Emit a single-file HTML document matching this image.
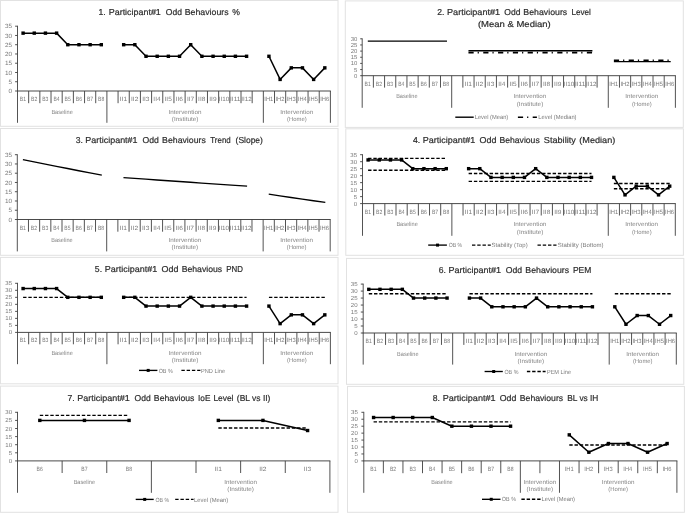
<!DOCTYPE html>
<html><head><meta charset="utf-8"><style>
html,body{margin:0;padding:0;background:#fff;width:685px;height:513px;overflow:hidden}
svg{display:block;font-family:"Liberation Sans",sans-serif;will-change:transform;text-rendering:geometricPrecision}
</style></head><body>
<svg width="685" height="513" viewBox="0 0 685 513" font-family="Liberation Sans, sans-serif" xml:space="preserve">
<rect width="685" height="513" fill="#fff"/>
<g opacity="0.999">
<rect x="0.5" y="0.5" width="337.5" height="125.8" fill="#fff" stroke="#e2e2e2" stroke-width="1"/>
<text x="98.56" y="15" font-size="8.6" fill="#2e2e2e" textLength="7.17" lengthAdjust="spacingAndGlyphs" style="white-space:pre" stroke="#2e2e2e" stroke-width="0.2">1.</text>
<text x="108.76" y="15" font-size="8.6" fill="#2e2e2e" textLength="52.08" lengthAdjust="spacingAndGlyphs" style="white-space:pre" stroke="#2e2e2e" stroke-width="0.2">Participant#1</text>
<text x="165.79" y="15" font-size="8.6" fill="#2e2e2e" textLength="16.14" lengthAdjust="spacingAndGlyphs" style="white-space:pre" stroke="#2e2e2e" stroke-width="0.2">Odd</text>
<text x="184.78" y="15" font-size="8.6" fill="#2e2e2e" textLength="43.83" lengthAdjust="spacingAndGlyphs" style="white-space:pre" stroke="#2e2e2e" stroke-width="0.2">Behaviours</text>
<text x="232.3" y="15" font-size="8.6" fill="#2e2e2e" textLength="7.7" lengthAdjust="spacingAndGlyphs" style="white-space:pre" stroke="#2e2e2e" stroke-width="0.2">%</text>
<line x1="15.1" y1="91" x2="17.5" y2="91" stroke="#404040" stroke-width="0.9"/>
<text x="8.49" y="93.13" font-size="6.1" fill="#7a7a7a" textLength="3.56" lengthAdjust="spacingAndGlyphs" style="white-space:pre">0</text>
<line x1="15.1" y1="81.74" x2="17.5" y2="81.74" stroke="#404040" stroke-width="0.9"/>
<text x="8.5" y="83.87" font-size="6.1" fill="#7a7a7a" textLength="3.56" lengthAdjust="spacingAndGlyphs" style="white-space:pre">5</text>
<line x1="15.1" y1="72.49" x2="17.5" y2="72.49" stroke="#404040" stroke-width="0.9"/>
<text x="4.93" y="74.61" font-size="6.1" fill="#7a7a7a" textLength="7.12" lengthAdjust="spacingAndGlyphs" style="white-space:pre">10</text>
<line x1="15.1" y1="63.23" x2="17.5" y2="63.23" stroke="#404040" stroke-width="0.9"/>
<text x="4.95" y="65.36" font-size="6.1" fill="#7a7a7a" textLength="7.12" lengthAdjust="spacingAndGlyphs" style="white-space:pre">15</text>
<line x1="15.1" y1="53.97" x2="17.5" y2="53.97" stroke="#404040" stroke-width="0.9"/>
<text x="4.93" y="56.1" font-size="6.1" fill="#7a7a7a" textLength="7.12" lengthAdjust="spacingAndGlyphs" style="white-space:pre">20</text>
<line x1="15.1" y1="44.71" x2="17.5" y2="44.71" stroke="#404040" stroke-width="0.9"/>
<text x="4.95" y="46.84" font-size="6.1" fill="#7a7a7a" textLength="7.12" lengthAdjust="spacingAndGlyphs" style="white-space:pre">25</text>
<line x1="15.1" y1="35.46" x2="17.5" y2="35.46" stroke="#404040" stroke-width="0.9"/>
<text x="4.93" y="37.58" font-size="6.1" fill="#7a7a7a" textLength="7.12" lengthAdjust="spacingAndGlyphs" style="white-space:pre">30</text>
<line x1="15.1" y1="26.2" x2="17.5" y2="26.2" stroke="#404040" stroke-width="0.9"/>
<text x="4.95" y="28.33" font-size="6.1" fill="#7a7a7a" textLength="7.12" lengthAdjust="spacingAndGlyphs" style="white-space:pre">35</text>
<line x1="17.5" y1="25.75" x2="17.5" y2="91" stroke="#404040" stroke-width="0.9"/>
<line x1="17.05" y1="91" x2="330.85" y2="91" stroke="#404040" stroke-width="0.95"/>
<line x1="17.5" y1="91" x2="17.5" y2="122.8" stroke="#404040" stroke-width="0.9"/>
<line x1="28.67" y1="91" x2="28.67" y2="103.2" stroke="#404040" stroke-width="0.9"/>
<line x1="39.85" y1="91" x2="39.85" y2="103.2" stroke="#404040" stroke-width="0.9"/>
<line x1="51.02" y1="91" x2="51.02" y2="103.2" stroke="#404040" stroke-width="0.9"/>
<line x1="62.2" y1="91" x2="62.2" y2="103.2" stroke="#404040" stroke-width="0.9"/>
<line x1="73.38" y1="91" x2="73.38" y2="103.2" stroke="#404040" stroke-width="0.9"/>
<line x1="84.55" y1="91" x2="84.55" y2="103.2" stroke="#404040" stroke-width="0.9"/>
<line x1="95.72" y1="91" x2="95.72" y2="103.2" stroke="#404040" stroke-width="0.9"/>
<line x1="106.9" y1="91" x2="106.9" y2="122.8" stroke="#404040" stroke-width="0.9"/>
<line x1="118.07" y1="91" x2="118.07" y2="103.2" stroke="#404040" stroke-width="0.9"/>
<line x1="129.25" y1="91" x2="129.25" y2="103.2" stroke="#404040" stroke-width="0.9"/>
<line x1="140.42" y1="91" x2="140.42" y2="103.2" stroke="#404040" stroke-width="0.9"/>
<line x1="151.6" y1="91" x2="151.6" y2="103.2" stroke="#404040" stroke-width="0.9"/>
<line x1="162.77" y1="91" x2="162.77" y2="103.2" stroke="#404040" stroke-width="0.9"/>
<line x1="173.95" y1="91" x2="173.95" y2="103.2" stroke="#404040" stroke-width="0.9"/>
<line x1="185.12" y1="91" x2="185.12" y2="103.2" stroke="#404040" stroke-width="0.9"/>
<line x1="196.3" y1="91" x2="196.3" y2="103.2" stroke="#404040" stroke-width="0.9"/>
<line x1="207.47" y1="91" x2="207.47" y2="103.2" stroke="#404040" stroke-width="0.9"/>
<line x1="218.65" y1="91" x2="218.65" y2="103.2" stroke="#404040" stroke-width="0.9"/>
<line x1="229.82" y1="91" x2="229.82" y2="103.2" stroke="#404040" stroke-width="0.9"/>
<line x1="241" y1="91" x2="241" y2="103.2" stroke="#404040" stroke-width="0.9"/>
<line x1="252.17" y1="91" x2="252.17" y2="103.2" stroke="#404040" stroke-width="0.9"/>
<line x1="263.35" y1="91" x2="263.35" y2="122.8" stroke="#404040" stroke-width="0.9"/>
<line x1="274.52" y1="91" x2="274.52" y2="103.2" stroke="#404040" stroke-width="0.9"/>
<line x1="285.7" y1="91" x2="285.7" y2="103.2" stroke="#404040" stroke-width="0.9"/>
<line x1="296.88" y1="91" x2="296.88" y2="103.2" stroke="#404040" stroke-width="0.9"/>
<line x1="308.05" y1="91" x2="308.05" y2="103.2" stroke="#404040" stroke-width="0.9"/>
<line x1="319.22" y1="91" x2="319.22" y2="103.2" stroke="#404040" stroke-width="0.9"/>
<line x1="330.4" y1="91" x2="330.4" y2="122.8" stroke="#404040" stroke-width="0.9"/>
<text x="19.86" y="101" font-size="6.1" fill="#7a7a7a" textLength="6.27" lengthAdjust="spacingAndGlyphs" style="white-space:pre">B1</text>
<text x="31.04" y="101" font-size="6.1" fill="#7a7a7a" textLength="6.28" lengthAdjust="spacingAndGlyphs" style="white-space:pre">B2</text>
<text x="42.22" y="101" font-size="6.1" fill="#7a7a7a" textLength="6.24" lengthAdjust="spacingAndGlyphs" style="white-space:pre">B3</text>
<text x="53.4" y="101" font-size="6.1" fill="#7a7a7a" textLength="6.16" lengthAdjust="spacingAndGlyphs" style="white-space:pre">B4</text>
<text x="64.57" y="101" font-size="6.1" fill="#7a7a7a" textLength="6.23" lengthAdjust="spacingAndGlyphs" style="white-space:pre">B5</text>
<text x="75.74" y="101" font-size="6.1" fill="#7a7a7a" textLength="6.24" lengthAdjust="spacingAndGlyphs" style="white-space:pre">B6</text>
<text x="86.91" y="101" font-size="6.1" fill="#7a7a7a" textLength="6.28" lengthAdjust="spacingAndGlyphs" style="white-space:pre">B7</text>
<text x="98.09" y="101" font-size="6.1" fill="#7a7a7a" textLength="6.24" lengthAdjust="spacingAndGlyphs" style="white-space:pre">B8</text>
<text x="119.85" y="101" font-size="6.1" fill="#7a7a7a" textLength="7.34" lengthAdjust="spacingAndGlyphs" style="white-space:pre">II1</text>
<text x="131.03" y="101" font-size="6.1" fill="#7a7a7a" textLength="7.36" lengthAdjust="spacingAndGlyphs" style="white-space:pre">II2</text>
<text x="142.21" y="101" font-size="6.1" fill="#7a7a7a" textLength="7.3" lengthAdjust="spacingAndGlyphs" style="white-space:pre">II3</text>
<text x="153.39" y="101" font-size="6.1" fill="#7a7a7a" textLength="7.19" lengthAdjust="spacingAndGlyphs" style="white-space:pre">II4</text>
<text x="164.56" y="101" font-size="6.1" fill="#7a7a7a" textLength="7.28" lengthAdjust="spacingAndGlyphs" style="white-space:pre">II5</text>
<text x="175.73" y="101" font-size="6.1" fill="#7a7a7a" textLength="7.3" lengthAdjust="spacingAndGlyphs" style="white-space:pre">II6</text>
<text x="186.9" y="101" font-size="6.1" fill="#7a7a7a" textLength="7.36" lengthAdjust="spacingAndGlyphs" style="white-space:pre">II7</text>
<text x="198.08" y="101" font-size="6.1" fill="#7a7a7a" textLength="7.3" lengthAdjust="spacingAndGlyphs" style="white-space:pre">II8</text>
<text x="209.25" y="101" font-size="6.1" fill="#7a7a7a" textLength="7.32" lengthAdjust="spacingAndGlyphs" style="white-space:pre">II9</text>
<text x="218.86" y="101" font-size="6.1" fill="#7a7a7a" textLength="10.42" lengthAdjust="spacingAndGlyphs" style="white-space:pre">II10</text>
<text x="230" y="101" font-size="6.1" fill="#7a7a7a" textLength="10.53" lengthAdjust="spacingAndGlyphs" style="white-space:pre">II11</text>
<text x="241.21" y="101" font-size="6.1" fill="#7a7a7a" textLength="10.5" lengthAdjust="spacingAndGlyphs" style="white-space:pre">II12</text>
<text x="264.3" y="101" font-size="6.1" fill="#7a7a7a" textLength="9.02" lengthAdjust="spacingAndGlyphs" style="white-space:pre">IH1</text>
<text x="275.48" y="101" font-size="6.1" fill="#7a7a7a" textLength="9.03" lengthAdjust="spacingAndGlyphs" style="white-space:pre">IH2</text>
<text x="286.65" y="101" font-size="6.1" fill="#7a7a7a" textLength="8.99" lengthAdjust="spacingAndGlyphs" style="white-space:pre">IH3</text>
<text x="297.83" y="101" font-size="6.1" fill="#7a7a7a" textLength="8.89" lengthAdjust="spacingAndGlyphs" style="white-space:pre">IH4</text>
<text x="309" y="101" font-size="6.1" fill="#7a7a7a" textLength="8.97" lengthAdjust="spacingAndGlyphs" style="white-space:pre">IH5</text>
<text x="320.18" y="101" font-size="6.1" fill="#7a7a7a" textLength="8.99" lengthAdjust="spacingAndGlyphs" style="white-space:pre">IH6</text>
<text x="51.39" y="113.6" font-size="6" fill="#858585" textLength="21.4" lengthAdjust="spacingAndGlyphs" style="white-space:pre">Baseline</text>
<text x="168.64" y="113.6" font-size="6" fill="#858585" textLength="32.78" lengthAdjust="spacingAndGlyphs" style="white-space:pre">Intervention</text>
<text x="171.83" y="120.9" font-size="6" fill="#858585" textLength="26.59" lengthAdjust="spacingAndGlyphs" style="white-space:pre">(Institute)</text>
<text x="280.39" y="113.6" font-size="6" fill="#858585" textLength="32.78" lengthAdjust="spacingAndGlyphs" style="white-space:pre">Intervention</text>
<text x="287.01" y="120.9" font-size="6" fill="#858585" textLength="19.73" lengthAdjust="spacingAndGlyphs" style="white-space:pre">(Home)</text>
<polyline points="23.09,33.14 34.26,33.14 45.44,33.14 56.61,33.14 67.79,44.71 78.96,44.71 90.14,44.71 101.31,44.71" fill="none" stroke="#000" stroke-width="1.5" stroke-linejoin="round"/>
<rect x="21.39" y="31.44" width="3.4" height="3.4" fill="#000"/>
<rect x="32.56" y="31.44" width="3.4" height="3.4" fill="#000"/>
<rect x="43.74" y="31.44" width="3.4" height="3.4" fill="#000"/>
<rect x="54.91" y="31.44" width="3.4" height="3.4" fill="#000"/>
<rect x="66.09" y="43.01" width="3.4" height="3.4" fill="#000"/>
<rect x="77.26" y="43.01" width="3.4" height="3.4" fill="#000"/>
<rect x="88.44" y="43.01" width="3.4" height="3.4" fill="#000"/>
<rect x="99.61" y="43.01" width="3.4" height="3.4" fill="#000"/>
<polyline points="123.66,44.71 134.84,44.71 146.01,56.29 157.19,56.29 168.36,56.29 179.54,56.29 190.71,44.71 201.89,56.29 213.06,56.29 224.24,56.29 235.41,56.29 246.59,56.29" fill="none" stroke="#000" stroke-width="1.5" stroke-linejoin="round"/>
<rect x="121.96" y="43.01" width="3.4" height="3.4" fill="#000"/>
<rect x="133.14" y="43.01" width="3.4" height="3.4" fill="#000"/>
<rect x="144.31" y="54.59" width="3.4" height="3.4" fill="#000"/>
<rect x="155.49" y="54.59" width="3.4" height="3.4" fill="#000"/>
<rect x="166.66" y="54.59" width="3.4" height="3.4" fill="#000"/>
<rect x="177.84" y="54.59" width="3.4" height="3.4" fill="#000"/>
<rect x="189.01" y="43.01" width="3.4" height="3.4" fill="#000"/>
<rect x="200.19" y="54.59" width="3.4" height="3.4" fill="#000"/>
<rect x="211.36" y="54.59" width="3.4" height="3.4" fill="#000"/>
<rect x="222.54" y="54.59" width="3.4" height="3.4" fill="#000"/>
<rect x="233.71" y="54.59" width="3.4" height="3.4" fill="#000"/>
<rect x="244.89" y="54.59" width="3.4" height="3.4" fill="#000"/>
<polyline points="268.94,56.29 280.11,79.43 291.29,67.86 302.46,67.86 313.64,79.43 324.81,67.86" fill="none" stroke="#000" stroke-width="1.5" stroke-linejoin="round"/>
<rect x="267.24" y="54.59" width="3.4" height="3.4" fill="#000"/>
<rect x="278.41" y="77.73" width="3.4" height="3.4" fill="#000"/>
<rect x="289.59" y="66.16" width="3.4" height="3.4" fill="#000"/>
<rect x="300.76" y="66.16" width="3.4" height="3.4" fill="#000"/>
<rect x="311.94" y="77.73" width="3.4" height="3.4" fill="#000"/>
<rect x="323.11" y="66.16" width="3.4" height="3.4" fill="#000"/>
<rect x="345.3" y="0.9" width="338" height="126.5" fill="#fff" stroke="#e2e2e2" stroke-width="1"/>
<text x="437.27" y="15.4" font-size="8.6" fill="#2e2e2e" textLength="7.17" lengthAdjust="spacingAndGlyphs" style="white-space:pre" stroke="#2e2e2e" stroke-width="0.2">2.</text>
<text x="447.05" y="15.4" font-size="8.6" fill="#2e2e2e" textLength="53.1" lengthAdjust="spacingAndGlyphs" style="white-space:pre" stroke="#2e2e2e" stroke-width="0.2">Participant#1</text>
<text x="504.29" y="15.4" font-size="8.6" fill="#2e2e2e" textLength="16.14" lengthAdjust="spacingAndGlyphs" style="white-space:pre" stroke="#2e2e2e" stroke-width="0.2">Odd</text>
<text x="523.38" y="15.4" font-size="8.6" fill="#2e2e2e" textLength="43.83" lengthAdjust="spacingAndGlyphs" style="white-space:pre" stroke="#2e2e2e" stroke-width="0.2">Behaviours</text>
<text x="571.43" y="15.4" font-size="8.6" fill="#2e2e2e" textLength="19.42" lengthAdjust="spacingAndGlyphs" style="white-space:pre" stroke="#2e2e2e" stroke-width="0.2">Level</text>
<text x="477.91" y="27.1" font-size="8.6" fill="#2e2e2e" textLength="72.86" lengthAdjust="spacingAndGlyphs" style="white-space:pre" stroke="#2e2e2e" stroke-width="0.2">(Mean &amp; Median)</text>
<line x1="360.2" y1="75.7" x2="362.2" y2="75.7" stroke="#404040" stroke-width="0.9"/>
<text x="354" y="77.69" font-size="5.7" fill="#7a7a7a" textLength="3.33" lengthAdjust="spacingAndGlyphs" style="white-space:pre">0</text>
<line x1="360.2" y1="69.55" x2="362.2" y2="69.55" stroke="#404040" stroke-width="0.9"/>
<text x="354.02" y="71.54" font-size="5.7" fill="#7a7a7a" textLength="3.33" lengthAdjust="spacingAndGlyphs" style="white-space:pre">5</text>
<line x1="360.2" y1="63.4" x2="362.2" y2="63.4" stroke="#404040" stroke-width="0.9"/>
<text x="350.68" y="65.39" font-size="5.7" fill="#7a7a7a" textLength="6.66" lengthAdjust="spacingAndGlyphs" style="white-space:pre">10</text>
<line x1="360.2" y1="57.25" x2="362.2" y2="57.25" stroke="#404040" stroke-width="0.9"/>
<text x="350.7" y="59.24" font-size="5.7" fill="#7a7a7a" textLength="6.66" lengthAdjust="spacingAndGlyphs" style="white-space:pre">15</text>
<line x1="360.2" y1="51.1" x2="362.2" y2="51.1" stroke="#404040" stroke-width="0.9"/>
<text x="350.68" y="53.09" font-size="5.7" fill="#7a7a7a" textLength="6.66" lengthAdjust="spacingAndGlyphs" style="white-space:pre">20</text>
<line x1="360.2" y1="44.95" x2="362.2" y2="44.95" stroke="#404040" stroke-width="0.9"/>
<text x="350.7" y="46.94" font-size="5.7" fill="#7a7a7a" textLength="6.66" lengthAdjust="spacingAndGlyphs" style="white-space:pre">25</text>
<line x1="360.2" y1="38.8" x2="362.2" y2="38.8" stroke="#404040" stroke-width="0.9"/>
<text x="350.68" y="40.79" font-size="5.7" fill="#7a7a7a" textLength="6.66" lengthAdjust="spacingAndGlyphs" style="white-space:pre">30</text>
<line x1="362.2" y1="38.35" x2="362.2" y2="75.7" stroke="#404040" stroke-width="0.9"/>
<line x1="361.75" y1="75.7" x2="675.85" y2="75.7" stroke="#404040" stroke-width="0.95"/>
<line x1="362.2" y1="75.7" x2="362.2" y2="107.8" stroke="#404040" stroke-width="0.9"/>
<line x1="373.39" y1="75.7" x2="373.39" y2="87.6" stroke="#404040" stroke-width="0.9"/>
<line x1="384.57" y1="75.7" x2="384.57" y2="87.6" stroke="#404040" stroke-width="0.9"/>
<line x1="395.76" y1="75.7" x2="395.76" y2="87.6" stroke="#404040" stroke-width="0.9"/>
<line x1="406.94" y1="75.7" x2="406.94" y2="87.6" stroke="#404040" stroke-width="0.9"/>
<line x1="418.13" y1="75.7" x2="418.13" y2="87.6" stroke="#404040" stroke-width="0.9"/>
<line x1="429.31" y1="75.7" x2="429.31" y2="87.6" stroke="#404040" stroke-width="0.9"/>
<line x1="440.5" y1="75.7" x2="440.5" y2="87.6" stroke="#404040" stroke-width="0.9"/>
<line x1="451.69" y1="75.7" x2="451.69" y2="107.8" stroke="#404040" stroke-width="0.9"/>
<line x1="462.87" y1="75.7" x2="462.87" y2="87.6" stroke="#404040" stroke-width="0.9"/>
<line x1="474.06" y1="75.7" x2="474.06" y2="87.6" stroke="#404040" stroke-width="0.9"/>
<line x1="485.24" y1="75.7" x2="485.24" y2="87.6" stroke="#404040" stroke-width="0.9"/>
<line x1="496.43" y1="75.7" x2="496.43" y2="87.6" stroke="#404040" stroke-width="0.9"/>
<line x1="507.61" y1="75.7" x2="507.61" y2="87.6" stroke="#404040" stroke-width="0.9"/>
<line x1="518.8" y1="75.7" x2="518.8" y2="87.6" stroke="#404040" stroke-width="0.9"/>
<line x1="529.99" y1="75.7" x2="529.99" y2="87.6" stroke="#404040" stroke-width="0.9"/>
<line x1="541.17" y1="75.7" x2="541.17" y2="87.6" stroke="#404040" stroke-width="0.9"/>
<line x1="552.36" y1="75.7" x2="552.36" y2="87.6" stroke="#404040" stroke-width="0.9"/>
<line x1="563.54" y1="75.7" x2="563.54" y2="87.6" stroke="#404040" stroke-width="0.9"/>
<line x1="574.73" y1="75.7" x2="574.73" y2="87.6" stroke="#404040" stroke-width="0.9"/>
<line x1="585.91" y1="75.7" x2="585.91" y2="87.6" stroke="#404040" stroke-width="0.9"/>
<line x1="597.1" y1="75.7" x2="597.1" y2="87.6" stroke="#404040" stroke-width="0.9"/>
<line x1="608.29" y1="75.7" x2="608.29" y2="107.8" stroke="#404040" stroke-width="0.9"/>
<line x1="619.47" y1="75.7" x2="619.47" y2="87.6" stroke="#404040" stroke-width="0.9"/>
<line x1="630.66" y1="75.7" x2="630.66" y2="87.6" stroke="#404040" stroke-width="0.9"/>
<line x1="641.84" y1="75.7" x2="641.84" y2="87.6" stroke="#404040" stroke-width="0.9"/>
<line x1="653.03" y1="75.7" x2="653.03" y2="87.6" stroke="#404040" stroke-width="0.9"/>
<line x1="664.21" y1="75.7" x2="664.21" y2="87.6" stroke="#404040" stroke-width="0.9"/>
<line x1="675.4" y1="75.7" x2="675.4" y2="107.8" stroke="#404040" stroke-width="0.9"/>
<text x="364.57" y="85.7" font-size="6.1" fill="#7a7a7a" textLength="6.27" lengthAdjust="spacingAndGlyphs" style="white-space:pre">B1</text>
<text x="375.75" y="85.7" font-size="6.1" fill="#7a7a7a" textLength="6.28" lengthAdjust="spacingAndGlyphs" style="white-space:pre">B2</text>
<text x="386.94" y="85.7" font-size="6.1" fill="#7a7a7a" textLength="6.24" lengthAdjust="spacingAndGlyphs" style="white-space:pre">B3</text>
<text x="398.13" y="85.7" font-size="6.1" fill="#7a7a7a" textLength="6.16" lengthAdjust="spacingAndGlyphs" style="white-space:pre">B4</text>
<text x="409.32" y="85.7" font-size="6.1" fill="#7a7a7a" textLength="6.23" lengthAdjust="spacingAndGlyphs" style="white-space:pre">B5</text>
<text x="420.5" y="85.7" font-size="6.1" fill="#7a7a7a" textLength="6.24" lengthAdjust="spacingAndGlyphs" style="white-space:pre">B6</text>
<text x="431.68" y="85.7" font-size="6.1" fill="#7a7a7a" textLength="6.28" lengthAdjust="spacingAndGlyphs" style="white-space:pre">B7</text>
<text x="442.87" y="85.7" font-size="6.1" fill="#7a7a7a" textLength="6.24" lengthAdjust="spacingAndGlyphs" style="white-space:pre">B8</text>
<text x="464.65" y="85.7" font-size="6.1" fill="#7a7a7a" textLength="7.34" lengthAdjust="spacingAndGlyphs" style="white-space:pre">II1</text>
<text x="475.84" y="85.7" font-size="6.1" fill="#7a7a7a" textLength="7.36" lengthAdjust="spacingAndGlyphs" style="white-space:pre">II2</text>
<text x="487.03" y="85.7" font-size="6.1" fill="#7a7a7a" textLength="7.3" lengthAdjust="spacingAndGlyphs" style="white-space:pre">II3</text>
<text x="498.22" y="85.7" font-size="6.1" fill="#7a7a7a" textLength="7.19" lengthAdjust="spacingAndGlyphs" style="white-space:pre">II4</text>
<text x="509.4" y="85.7" font-size="6.1" fill="#7a7a7a" textLength="7.28" lengthAdjust="spacingAndGlyphs" style="white-space:pre">II5</text>
<text x="520.59" y="85.7" font-size="6.1" fill="#7a7a7a" textLength="7.3" lengthAdjust="spacingAndGlyphs" style="white-space:pre">II6</text>
<text x="531.77" y="85.7" font-size="6.1" fill="#7a7a7a" textLength="7.36" lengthAdjust="spacingAndGlyphs" style="white-space:pre">II7</text>
<text x="542.96" y="85.7" font-size="6.1" fill="#7a7a7a" textLength="7.3" lengthAdjust="spacingAndGlyphs" style="white-space:pre">II8</text>
<text x="554.14" y="85.7" font-size="6.1" fill="#7a7a7a" textLength="7.32" lengthAdjust="spacingAndGlyphs" style="white-space:pre">II9</text>
<text x="563.76" y="85.7" font-size="6.1" fill="#7a7a7a" textLength="10.42" lengthAdjust="spacingAndGlyphs" style="white-space:pre">II10</text>
<text x="574.91" y="85.7" font-size="6.1" fill="#7a7a7a" textLength="10.53" lengthAdjust="spacingAndGlyphs" style="white-space:pre">II11</text>
<text x="586.12" y="85.7" font-size="6.1" fill="#7a7a7a" textLength="10.5" lengthAdjust="spacingAndGlyphs" style="white-space:pre">II12</text>
<text x="609.24" y="85.7" font-size="6.1" fill="#7a7a7a" textLength="9.02" lengthAdjust="spacingAndGlyphs" style="white-space:pre">IH1</text>
<text x="620.43" y="85.7" font-size="6.1" fill="#7a7a7a" textLength="9.03" lengthAdjust="spacingAndGlyphs" style="white-space:pre">IH2</text>
<text x="631.62" y="85.7" font-size="6.1" fill="#7a7a7a" textLength="8.99" lengthAdjust="spacingAndGlyphs" style="white-space:pre">IH3</text>
<text x="642.81" y="85.7" font-size="6.1" fill="#7a7a7a" textLength="8.89" lengthAdjust="spacingAndGlyphs" style="white-space:pre">IH4</text>
<text x="653.99" y="85.7" font-size="6.1" fill="#7a7a7a" textLength="8.97" lengthAdjust="spacingAndGlyphs" style="white-space:pre">IH5</text>
<text x="665.17" y="85.7" font-size="6.1" fill="#7a7a7a" textLength="8.99" lengthAdjust="spacingAndGlyphs" style="white-space:pre">IH6</text>
<text x="396.13" y="98.3" font-size="6" fill="#858585" textLength="21.4" lengthAdjust="spacingAndGlyphs" style="white-space:pre">Baseline</text>
<text x="513.51" y="98.3" font-size="6" fill="#858585" textLength="32.78" lengthAdjust="spacingAndGlyphs" style="white-space:pre">Intervention</text>
<text x="516.69" y="105.6" font-size="6" fill="#858585" textLength="26.59" lengthAdjust="spacingAndGlyphs" style="white-space:pre">(Institute)</text>
<text x="625.36" y="98.3" font-size="6" fill="#858585" textLength="32.78" lengthAdjust="spacingAndGlyphs" style="white-space:pre">Intervention</text>
<text x="631.97" y="105.6" font-size="6" fill="#858585" textLength="19.73" lengthAdjust="spacingAndGlyphs" style="white-space:pre">(Home)</text>
<polyline points="367.79,41.11 378.98,41.11 390.16,41.11 401.35,41.11 412.54,41.11 423.72,41.11 434.91,41.11 446.99,41.11" fill="none" stroke="#000" stroke-width="1.4" stroke-linejoin="round"/>
<polyline points="468.46,50.72 479.65,50.72 490.84,50.72 502.02,50.72 513.21,50.72 524.39,50.72 535.58,50.72 546.76,50.72 557.95,50.72 569.14,50.72 580.32,50.72 592.41,50.72" fill="none" stroke="#000" stroke-width="1.4" stroke-linejoin="round"/>
<polyline points="613.88,61.61 625.06,61.61 636.25,61.61 647.44,61.61 658.62,61.61 670.71,61.61" fill="none" stroke="#000" stroke-width="1.4" stroke-linejoin="round"/>
<polyline points="468.46,52.64 479.65,52.64 490.84,52.64 502.02,52.64 513.21,52.64 524.39,52.64 535.58,52.64 546.76,52.64 557.95,52.64 569.14,52.64 580.32,52.64 592.41,52.64" fill="none" stroke="#000" stroke-width="1.6" stroke-linejoin="round" stroke-dasharray="5.2,4,1.2,4.4"/>
<polyline points="613.88,60.33 625.06,60.33 636.25,60.33 647.44,60.33 658.62,60.33 670.71,60.33" fill="none" stroke="#000" stroke-width="1.6" stroke-linejoin="round" stroke-dasharray="5.2,4,1.2,4.4"/>
<line x1="455.3" y1="117.2" x2="473.7" y2="117.2" stroke="#000" stroke-width="1.4"/>
<text x="474.73" y="119.3" font-size="6" fill="#7a7a7a" textLength="33.52" lengthAdjust="spacingAndGlyphs" style="white-space:pre">Level (Mean)</text>
<line x1="517.9" y1="117.2" x2="536.9" y2="117.2" stroke="#000" stroke-width="1.6" stroke-dasharray="5.2,4,1.2,4.4"/>
<text x="538.32" y="119.3" font-size="6" fill="#7a7a7a" textLength="38.22" lengthAdjust="spacingAndGlyphs" style="white-space:pre">Level (Median)</text>
<rect x="0.5" y="128.5" width="337.5" height="126.8" fill="#fff" stroke="#e2e2e2" stroke-width="1"/>
<text x="75.68" y="143.4" font-size="8.6" fill="#2e2e2e" textLength="7.17" lengthAdjust="spacingAndGlyphs" style="white-space:pre" stroke="#2e2e2e" stroke-width="0.2">3.</text>
<text x="85.36" y="143.4" font-size="8.6" fill="#2e2e2e" textLength="52.18" lengthAdjust="spacingAndGlyphs" style="white-space:pre" stroke="#2e2e2e" stroke-width="0.2">Participant#1</text>
<text x="142.59" y="143.4" font-size="8.6" fill="#2e2e2e" textLength="16.35" lengthAdjust="spacingAndGlyphs" style="white-space:pre" stroke="#2e2e2e" stroke-width="0.2">Odd</text>
<text x="162.08" y="143.4" font-size="8.6" fill="#2e2e2e" textLength="43.73" lengthAdjust="spacingAndGlyphs" style="white-space:pre" stroke="#2e2e2e" stroke-width="0.2">Behaviours</text>
<text x="210.32" y="143.4" font-size="8.6" fill="#2e2e2e" textLength="20.37" lengthAdjust="spacingAndGlyphs" style="white-space:pre" stroke="#2e2e2e" stroke-width="0.2">Trend</text>
<text x="235.57" y="143.4" font-size="8.6" fill="#2e2e2e" textLength="27.35" lengthAdjust="spacingAndGlyphs" style="white-space:pre" stroke="#2e2e2e" stroke-width="0.2">(Slope)</text>
<line x1="14.9" y1="219.5" x2="17.3" y2="219.5" stroke="#404040" stroke-width="0.9"/>
<text x="8.49" y="221.63" font-size="6.1" fill="#7a7a7a" textLength="3.56" lengthAdjust="spacingAndGlyphs" style="white-space:pre">0</text>
<line x1="14.9" y1="210.24" x2="17.3" y2="210.24" stroke="#404040" stroke-width="0.9"/>
<text x="8.5" y="212.37" font-size="6.1" fill="#7a7a7a" textLength="3.56" lengthAdjust="spacingAndGlyphs" style="white-space:pre">5</text>
<line x1="14.9" y1="200.99" x2="17.3" y2="200.99" stroke="#404040" stroke-width="0.9"/>
<text x="4.93" y="203.11" font-size="6.1" fill="#7a7a7a" textLength="7.12" lengthAdjust="spacingAndGlyphs" style="white-space:pre">10</text>
<line x1="14.9" y1="191.73" x2="17.3" y2="191.73" stroke="#404040" stroke-width="0.9"/>
<text x="4.95" y="193.86" font-size="6.1" fill="#7a7a7a" textLength="7.12" lengthAdjust="spacingAndGlyphs" style="white-space:pre">15</text>
<line x1="14.9" y1="182.47" x2="17.3" y2="182.47" stroke="#404040" stroke-width="0.9"/>
<text x="4.93" y="184.6" font-size="6.1" fill="#7a7a7a" textLength="7.12" lengthAdjust="spacingAndGlyphs" style="white-space:pre">20</text>
<line x1="14.9" y1="173.21" x2="17.3" y2="173.21" stroke="#404040" stroke-width="0.9"/>
<text x="4.95" y="175.34" font-size="6.1" fill="#7a7a7a" textLength="7.12" lengthAdjust="spacingAndGlyphs" style="white-space:pre">25</text>
<line x1="14.9" y1="163.96" x2="17.3" y2="163.96" stroke="#404040" stroke-width="0.9"/>
<text x="4.93" y="166.08" font-size="6.1" fill="#7a7a7a" textLength="7.12" lengthAdjust="spacingAndGlyphs" style="white-space:pre">30</text>
<line x1="14.9" y1="154.7" x2="17.3" y2="154.7" stroke="#404040" stroke-width="0.9"/>
<text x="4.95" y="156.83" font-size="6.1" fill="#7a7a7a" textLength="7.12" lengthAdjust="spacingAndGlyphs" style="white-space:pre">35</text>
<line x1="17.3" y1="154.25" x2="17.3" y2="219.5" stroke="#404040" stroke-width="0.9"/>
<line x1="16.85" y1="219.5" x2="330.65" y2="219.5" stroke="#404040" stroke-width="0.95"/>
<line x1="17.3" y1="219.5" x2="17.3" y2="251.4" stroke="#404040" stroke-width="0.9"/>
<line x1="28.48" y1="219.5" x2="28.48" y2="231.7" stroke="#404040" stroke-width="0.9"/>
<line x1="39.65" y1="219.5" x2="39.65" y2="231.7" stroke="#404040" stroke-width="0.9"/>
<line x1="50.83" y1="219.5" x2="50.83" y2="231.7" stroke="#404040" stroke-width="0.9"/>
<line x1="62" y1="219.5" x2="62" y2="231.7" stroke="#404040" stroke-width="0.9"/>
<line x1="73.17" y1="219.5" x2="73.17" y2="231.7" stroke="#404040" stroke-width="0.9"/>
<line x1="84.35" y1="219.5" x2="84.35" y2="231.7" stroke="#404040" stroke-width="0.9"/>
<line x1="95.52" y1="219.5" x2="95.52" y2="231.7" stroke="#404040" stroke-width="0.9"/>
<line x1="106.7" y1="219.5" x2="106.7" y2="251.4" stroke="#404040" stroke-width="0.9"/>
<line x1="117.87" y1="219.5" x2="117.87" y2="231.7" stroke="#404040" stroke-width="0.9"/>
<line x1="129.05" y1="219.5" x2="129.05" y2="231.7" stroke="#404040" stroke-width="0.9"/>
<line x1="140.22" y1="219.5" x2="140.22" y2="231.7" stroke="#404040" stroke-width="0.9"/>
<line x1="151.4" y1="219.5" x2="151.4" y2="231.7" stroke="#404040" stroke-width="0.9"/>
<line x1="162.57" y1="219.5" x2="162.57" y2="231.7" stroke="#404040" stroke-width="0.9"/>
<line x1="173.75" y1="219.5" x2="173.75" y2="231.7" stroke="#404040" stroke-width="0.9"/>
<line x1="184.92" y1="219.5" x2="184.92" y2="231.7" stroke="#404040" stroke-width="0.9"/>
<line x1="196.1" y1="219.5" x2="196.1" y2="231.7" stroke="#404040" stroke-width="0.9"/>
<line x1="207.28" y1="219.5" x2="207.28" y2="231.7" stroke="#404040" stroke-width="0.9"/>
<line x1="218.45" y1="219.5" x2="218.45" y2="231.7" stroke="#404040" stroke-width="0.9"/>
<line x1="229.62" y1="219.5" x2="229.62" y2="231.7" stroke="#404040" stroke-width="0.9"/>
<line x1="240.8" y1="219.5" x2="240.8" y2="231.7" stroke="#404040" stroke-width="0.9"/>
<line x1="251.97" y1="219.5" x2="251.97" y2="231.7" stroke="#404040" stroke-width="0.9"/>
<line x1="263.15" y1="219.5" x2="263.15" y2="251.4" stroke="#404040" stroke-width="0.9"/>
<line x1="274.32" y1="219.5" x2="274.32" y2="231.7" stroke="#404040" stroke-width="0.9"/>
<line x1="285.5" y1="219.5" x2="285.5" y2="231.7" stroke="#404040" stroke-width="0.9"/>
<line x1="296.68" y1="219.5" x2="296.68" y2="231.7" stroke="#404040" stroke-width="0.9"/>
<line x1="307.85" y1="219.5" x2="307.85" y2="231.7" stroke="#404040" stroke-width="0.9"/>
<line x1="319.02" y1="219.5" x2="319.02" y2="231.7" stroke="#404040" stroke-width="0.9"/>
<line x1="330.2" y1="219.5" x2="330.2" y2="251.4" stroke="#404040" stroke-width="0.9"/>
<text x="19.66" y="229.5" font-size="6.1" fill="#7a7a7a" textLength="6.27" lengthAdjust="spacingAndGlyphs" style="white-space:pre">B1</text>
<text x="30.84" y="229.5" font-size="6.1" fill="#7a7a7a" textLength="6.28" lengthAdjust="spacingAndGlyphs" style="white-space:pre">B2</text>
<text x="42.02" y="229.5" font-size="6.1" fill="#7a7a7a" textLength="6.24" lengthAdjust="spacingAndGlyphs" style="white-space:pre">B3</text>
<text x="53.2" y="229.5" font-size="6.1" fill="#7a7a7a" textLength="6.16" lengthAdjust="spacingAndGlyphs" style="white-space:pre">B4</text>
<text x="64.37" y="229.5" font-size="6.1" fill="#7a7a7a" textLength="6.23" lengthAdjust="spacingAndGlyphs" style="white-space:pre">B5</text>
<text x="75.54" y="229.5" font-size="6.1" fill="#7a7a7a" textLength="6.24" lengthAdjust="spacingAndGlyphs" style="white-space:pre">B6</text>
<text x="86.71" y="229.5" font-size="6.1" fill="#7a7a7a" textLength="6.28" lengthAdjust="spacingAndGlyphs" style="white-space:pre">B7</text>
<text x="97.89" y="229.5" font-size="6.1" fill="#7a7a7a" textLength="6.24" lengthAdjust="spacingAndGlyphs" style="white-space:pre">B8</text>
<text x="119.65" y="229.5" font-size="6.1" fill="#7a7a7a" textLength="7.34" lengthAdjust="spacingAndGlyphs" style="white-space:pre">II1</text>
<text x="130.83" y="229.5" font-size="6.1" fill="#7a7a7a" textLength="7.36" lengthAdjust="spacingAndGlyphs" style="white-space:pre">II2</text>
<text x="142.01" y="229.5" font-size="6.1" fill="#7a7a7a" textLength="7.3" lengthAdjust="spacingAndGlyphs" style="white-space:pre">II3</text>
<text x="153.19" y="229.5" font-size="6.1" fill="#7a7a7a" textLength="7.19" lengthAdjust="spacingAndGlyphs" style="white-space:pre">II4</text>
<text x="164.36" y="229.5" font-size="6.1" fill="#7a7a7a" textLength="7.28" lengthAdjust="spacingAndGlyphs" style="white-space:pre">II5</text>
<text x="175.53" y="229.5" font-size="6.1" fill="#7a7a7a" textLength="7.3" lengthAdjust="spacingAndGlyphs" style="white-space:pre">II6</text>
<text x="186.7" y="229.5" font-size="6.1" fill="#7a7a7a" textLength="7.36" lengthAdjust="spacingAndGlyphs" style="white-space:pre">II7</text>
<text x="197.88" y="229.5" font-size="6.1" fill="#7a7a7a" textLength="7.3" lengthAdjust="spacingAndGlyphs" style="white-space:pre">II8</text>
<text x="209.05" y="229.5" font-size="6.1" fill="#7a7a7a" textLength="7.32" lengthAdjust="spacingAndGlyphs" style="white-space:pre">II9</text>
<text x="218.66" y="229.5" font-size="6.1" fill="#7a7a7a" textLength="10.42" lengthAdjust="spacingAndGlyphs" style="white-space:pre">II10</text>
<text x="229.8" y="229.5" font-size="6.1" fill="#7a7a7a" textLength="10.53" lengthAdjust="spacingAndGlyphs" style="white-space:pre">II11</text>
<text x="241.01" y="229.5" font-size="6.1" fill="#7a7a7a" textLength="10.5" lengthAdjust="spacingAndGlyphs" style="white-space:pre">II12</text>
<text x="264.1" y="229.5" font-size="6.1" fill="#7a7a7a" textLength="9.02" lengthAdjust="spacingAndGlyphs" style="white-space:pre">IH1</text>
<text x="275.28" y="229.5" font-size="6.1" fill="#7a7a7a" textLength="9.03" lengthAdjust="spacingAndGlyphs" style="white-space:pre">IH2</text>
<text x="286.45" y="229.5" font-size="6.1" fill="#7a7a7a" textLength="8.99" lengthAdjust="spacingAndGlyphs" style="white-space:pre">IH3</text>
<text x="297.63" y="229.5" font-size="6.1" fill="#7a7a7a" textLength="8.89" lengthAdjust="spacingAndGlyphs" style="white-space:pre">IH4</text>
<text x="308.8" y="229.5" font-size="6.1" fill="#7a7a7a" textLength="8.97" lengthAdjust="spacingAndGlyphs" style="white-space:pre">IH5</text>
<text x="319.98" y="229.5" font-size="6.1" fill="#7a7a7a" textLength="8.99" lengthAdjust="spacingAndGlyphs" style="white-space:pre">IH6</text>
<text x="51.19" y="242.1" font-size="6" fill="#858585" textLength="21.4" lengthAdjust="spacingAndGlyphs" style="white-space:pre">Baseline</text>
<text x="168.44" y="242.1" font-size="6" fill="#858585" textLength="32.78" lengthAdjust="spacingAndGlyphs" style="white-space:pre">Intervention</text>
<text x="171.63" y="249.4" font-size="6" fill="#858585" textLength="26.59" lengthAdjust="spacingAndGlyphs" style="white-space:pre">(Institute)</text>
<text x="280.19" y="242.1" font-size="6" fill="#858585" textLength="32.78" lengthAdjust="spacingAndGlyphs" style="white-space:pre">Intervention</text>
<text x="286.81" y="249.4" font-size="6" fill="#858585" textLength="19.73" lengthAdjust="spacingAndGlyphs" style="white-space:pre">(Home)</text>
<polyline points="22.89,159.71 34.06,161.92 45.24,164.12 56.41,166.33 67.59,168.53 78.76,170.73 89.94,172.94 101.81,175.14" fill="none" stroke="#000" stroke-width="1.35" stroke-linejoin="round"/>
<polyline points="123.46,177.66 134.64,178.43 145.81,179.2 156.99,179.97 168.16,180.74 179.34,181.51 190.51,182.28 201.69,183.05 212.86,183.81 224.04,184.58 235.21,185.35 247.09,186.12" fill="none" stroke="#000" stroke-width="1.35" stroke-linejoin="round"/>
<polyline points="268.74,194.15 279.91,195.81 291.09,197.46 302.26,199.11 313.44,200.77 325.31,202.42" fill="none" stroke="#000" stroke-width="1.35" stroke-linejoin="round"/>
<rect x="345.8" y="128.8" width="337.6" height="126.5" fill="#fff" stroke="#e2e2e2" stroke-width="1"/>
<text x="413.01" y="143.1" font-size="8.6" fill="#2e2e2e" textLength="7.17" lengthAdjust="spacingAndGlyphs" style="white-space:pre" stroke="#2e2e2e" stroke-width="0.2">4.</text>
<text x="422.66" y="143.1" font-size="8.6" fill="#2e2e2e" textLength="52.49" lengthAdjust="spacingAndGlyphs" style="white-space:pre" stroke="#2e2e2e" stroke-width="0.2">Participant#1</text>
<text x="479.48" y="143.1" font-size="8.6" fill="#2e2e2e" textLength="16.88" lengthAdjust="spacingAndGlyphs" style="white-space:pre" stroke="#2e2e2e" stroke-width="0.2">Odd</text>
<text x="499.49" y="143.1" font-size="8.6" fill="#2e2e2e" textLength="40.21" lengthAdjust="spacingAndGlyphs" style="white-space:pre" stroke="#2e2e2e" stroke-width="0.2">Behavious</text>
<text x="543.79" y="143.1" font-size="8.6" fill="#2e2e2e" textLength="32.03" lengthAdjust="spacingAndGlyphs" style="white-space:pre" stroke="#2e2e2e" stroke-width="0.2">Stability</text>
<text x="579.33" y="143.1" font-size="8.6" fill="#2e2e2e" textLength="35.92" lengthAdjust="spacingAndGlyphs" style="white-space:pre" stroke="#2e2e2e" stroke-width="0.2">(Median)</text>
<line x1="360.1" y1="203.6" x2="362.5" y2="203.6" stroke="#404040" stroke-width="0.9"/>
<text x="353.75" y="205.62" font-size="5.8" fill="#7a7a7a" textLength="3.39" lengthAdjust="spacingAndGlyphs" style="white-space:pre">0</text>
<line x1="360.1" y1="196.61" x2="362.5" y2="196.61" stroke="#404040" stroke-width="0.9"/>
<text x="353.76" y="198.64" font-size="5.8" fill="#7a7a7a" textLength="3.39" lengthAdjust="spacingAndGlyphs" style="white-space:pre">5</text>
<line x1="360.1" y1="189.63" x2="362.5" y2="189.63" stroke="#404040" stroke-width="0.9"/>
<text x="350.37" y="191.65" font-size="5.8" fill="#7a7a7a" textLength="6.77" lengthAdjust="spacingAndGlyphs" style="white-space:pre">10</text>
<line x1="360.1" y1="182.64" x2="362.5" y2="182.64" stroke="#404040" stroke-width="0.9"/>
<text x="350.38" y="184.67" font-size="5.8" fill="#7a7a7a" textLength="6.77" lengthAdjust="spacingAndGlyphs" style="white-space:pre">15</text>
<line x1="360.1" y1="175.66" x2="362.5" y2="175.66" stroke="#404040" stroke-width="0.9"/>
<text x="350.37" y="177.68" font-size="5.8" fill="#7a7a7a" textLength="6.77" lengthAdjust="spacingAndGlyphs" style="white-space:pre">20</text>
<line x1="360.1" y1="168.67" x2="362.5" y2="168.67" stroke="#404040" stroke-width="0.9"/>
<text x="350.38" y="170.69" font-size="5.8" fill="#7a7a7a" textLength="6.77" lengthAdjust="spacingAndGlyphs" style="white-space:pre">25</text>
<line x1="360.1" y1="161.69" x2="362.5" y2="161.69" stroke="#404040" stroke-width="0.9"/>
<text x="350.37" y="163.71" font-size="5.8" fill="#7a7a7a" textLength="6.77" lengthAdjust="spacingAndGlyphs" style="white-space:pre">30</text>
<line x1="360.1" y1="154.7" x2="362.5" y2="154.7" stroke="#404040" stroke-width="0.9"/>
<text x="350.38" y="156.72" font-size="5.8" fill="#7a7a7a" textLength="6.77" lengthAdjust="spacingAndGlyphs" style="white-space:pre">35</text>
<line x1="362.5" y1="154.25" x2="362.5" y2="203.6" stroke="#404040" stroke-width="0.9"/>
<line x1="362.05" y1="203.6" x2="675.75" y2="203.6" stroke="#404040" stroke-width="0.95"/>
<line x1="362.5" y1="203.6" x2="362.5" y2="235.8" stroke="#404040" stroke-width="0.9"/>
<line x1="373.67" y1="203.6" x2="373.67" y2="215.5" stroke="#404040" stroke-width="0.9"/>
<line x1="384.84" y1="203.6" x2="384.84" y2="215.5" stroke="#404040" stroke-width="0.9"/>
<line x1="396.01" y1="203.6" x2="396.01" y2="215.5" stroke="#404040" stroke-width="0.9"/>
<line x1="407.19" y1="203.6" x2="407.19" y2="215.5" stroke="#404040" stroke-width="0.9"/>
<line x1="418.36" y1="203.6" x2="418.36" y2="215.5" stroke="#404040" stroke-width="0.9"/>
<line x1="429.53" y1="203.6" x2="429.53" y2="215.5" stroke="#404040" stroke-width="0.9"/>
<line x1="440.7" y1="203.6" x2="440.7" y2="215.5" stroke="#404040" stroke-width="0.9"/>
<line x1="451.87" y1="203.6" x2="451.87" y2="235.8" stroke="#404040" stroke-width="0.9"/>
<line x1="463.04" y1="203.6" x2="463.04" y2="215.5" stroke="#404040" stroke-width="0.9"/>
<line x1="474.21" y1="203.6" x2="474.21" y2="215.5" stroke="#404040" stroke-width="0.9"/>
<line x1="485.39" y1="203.6" x2="485.39" y2="215.5" stroke="#404040" stroke-width="0.9"/>
<line x1="496.56" y1="203.6" x2="496.56" y2="215.5" stroke="#404040" stroke-width="0.9"/>
<line x1="507.73" y1="203.6" x2="507.73" y2="215.5" stroke="#404040" stroke-width="0.9"/>
<line x1="518.9" y1="203.6" x2="518.9" y2="215.5" stroke="#404040" stroke-width="0.9"/>
<line x1="530.07" y1="203.6" x2="530.07" y2="215.5" stroke="#404040" stroke-width="0.9"/>
<line x1="541.24" y1="203.6" x2="541.24" y2="215.5" stroke="#404040" stroke-width="0.9"/>
<line x1="552.41" y1="203.6" x2="552.41" y2="215.5" stroke="#404040" stroke-width="0.9"/>
<line x1="563.59" y1="203.6" x2="563.59" y2="215.5" stroke="#404040" stroke-width="0.9"/>
<line x1="574.76" y1="203.6" x2="574.76" y2="215.5" stroke="#404040" stroke-width="0.9"/>
<line x1="585.93" y1="203.6" x2="585.93" y2="215.5" stroke="#404040" stroke-width="0.9"/>
<line x1="597.1" y1="203.6" x2="597.1" y2="215.5" stroke="#404040" stroke-width="0.9"/>
<line x1="608.27" y1="203.6" x2="608.27" y2="235.8" stroke="#404040" stroke-width="0.9"/>
<line x1="619.44" y1="203.6" x2="619.44" y2="215.5" stroke="#404040" stroke-width="0.9"/>
<line x1="630.61" y1="203.6" x2="630.61" y2="215.5" stroke="#404040" stroke-width="0.9"/>
<line x1="641.79" y1="203.6" x2="641.79" y2="215.5" stroke="#404040" stroke-width="0.9"/>
<line x1="652.96" y1="203.6" x2="652.96" y2="215.5" stroke="#404040" stroke-width="0.9"/>
<line x1="664.13" y1="203.6" x2="664.13" y2="215.5" stroke="#404040" stroke-width="0.9"/>
<line x1="675.3" y1="203.6" x2="675.3" y2="235.8" stroke="#404040" stroke-width="0.9"/>
<text x="364.86" y="213.6" font-size="6.1" fill="#7a7a7a" textLength="6.27" lengthAdjust="spacingAndGlyphs" style="white-space:pre">B1</text>
<text x="376.03" y="213.6" font-size="6.1" fill="#7a7a7a" textLength="6.28" lengthAdjust="spacingAndGlyphs" style="white-space:pre">B2</text>
<text x="387.21" y="213.6" font-size="6.1" fill="#7a7a7a" textLength="6.24" lengthAdjust="spacingAndGlyphs" style="white-space:pre">B3</text>
<text x="398.38" y="213.6" font-size="6.1" fill="#7a7a7a" textLength="6.16" lengthAdjust="spacingAndGlyphs" style="white-space:pre">B4</text>
<text x="409.55" y="213.6" font-size="6.1" fill="#7a7a7a" textLength="6.23" lengthAdjust="spacingAndGlyphs" style="white-space:pre">B5</text>
<text x="420.72" y="213.6" font-size="6.1" fill="#7a7a7a" textLength="6.24" lengthAdjust="spacingAndGlyphs" style="white-space:pre">B6</text>
<text x="431.89" y="213.6" font-size="6.1" fill="#7a7a7a" textLength="6.28" lengthAdjust="spacingAndGlyphs" style="white-space:pre">B7</text>
<text x="443.06" y="213.6" font-size="6.1" fill="#7a7a7a" textLength="6.24" lengthAdjust="spacingAndGlyphs" style="white-space:pre">B8</text>
<text x="464.82" y="213.6" font-size="6.1" fill="#7a7a7a" textLength="7.34" lengthAdjust="spacingAndGlyphs" style="white-space:pre">II1</text>
<text x="475.99" y="213.6" font-size="6.1" fill="#7a7a7a" textLength="7.36" lengthAdjust="spacingAndGlyphs" style="white-space:pre">II2</text>
<text x="487.16" y="213.6" font-size="6.1" fill="#7a7a7a" textLength="7.3" lengthAdjust="spacingAndGlyphs" style="white-space:pre">II3</text>
<text x="498.34" y="213.6" font-size="6.1" fill="#7a7a7a" textLength="7.19" lengthAdjust="spacingAndGlyphs" style="white-space:pre">II4</text>
<text x="509.51" y="213.6" font-size="6.1" fill="#7a7a7a" textLength="7.28" lengthAdjust="spacingAndGlyphs" style="white-space:pre">II5</text>
<text x="520.68" y="213.6" font-size="6.1" fill="#7a7a7a" textLength="7.3" lengthAdjust="spacingAndGlyphs" style="white-space:pre">II6</text>
<text x="531.85" y="213.6" font-size="6.1" fill="#7a7a7a" textLength="7.36" lengthAdjust="spacingAndGlyphs" style="white-space:pre">II7</text>
<text x="543.02" y="213.6" font-size="6.1" fill="#7a7a7a" textLength="7.3" lengthAdjust="spacingAndGlyphs" style="white-space:pre">II8</text>
<text x="554.19" y="213.6" font-size="6.1" fill="#7a7a7a" textLength="7.32" lengthAdjust="spacingAndGlyphs" style="white-space:pre">II9</text>
<text x="563.79" y="213.6" font-size="6.1" fill="#7a7a7a" textLength="10.42" lengthAdjust="spacingAndGlyphs" style="white-space:pre">II10</text>
<text x="574.93" y="213.6" font-size="6.1" fill="#7a7a7a" textLength="10.53" lengthAdjust="spacingAndGlyphs" style="white-space:pre">II11</text>
<text x="586.13" y="213.6" font-size="6.1" fill="#7a7a7a" textLength="10.5" lengthAdjust="spacingAndGlyphs" style="white-space:pre">II12</text>
<text x="609.22" y="213.6" font-size="6.1" fill="#7a7a7a" textLength="9.02" lengthAdjust="spacingAndGlyphs" style="white-space:pre">IH1</text>
<text x="620.39" y="213.6" font-size="6.1" fill="#7a7a7a" textLength="9.03" lengthAdjust="spacingAndGlyphs" style="white-space:pre">IH2</text>
<text x="631.57" y="213.6" font-size="6.1" fill="#7a7a7a" textLength="8.99" lengthAdjust="spacingAndGlyphs" style="white-space:pre">IH3</text>
<text x="642.74" y="213.6" font-size="6.1" fill="#7a7a7a" textLength="8.89" lengthAdjust="spacingAndGlyphs" style="white-space:pre">IH4</text>
<text x="653.91" y="213.6" font-size="6.1" fill="#7a7a7a" textLength="8.97" lengthAdjust="spacingAndGlyphs" style="white-space:pre">IH5</text>
<text x="665.08" y="213.6" font-size="6.1" fill="#7a7a7a" textLength="8.99" lengthAdjust="spacingAndGlyphs" style="white-space:pre">IH6</text>
<text x="396.38" y="226.2" font-size="6" fill="#858585" textLength="21.4" lengthAdjust="spacingAndGlyphs" style="white-space:pre">Baseline</text>
<text x="513.59" y="226.2" font-size="6" fill="#858585" textLength="32.78" lengthAdjust="spacingAndGlyphs" style="white-space:pre">Intervention</text>
<text x="516.77" y="233.5" font-size="6" fill="#858585" textLength="26.59" lengthAdjust="spacingAndGlyphs" style="white-space:pre">(Institute)</text>
<text x="625.31" y="226.2" font-size="6" fill="#858585" textLength="32.78" lengthAdjust="spacingAndGlyphs" style="white-space:pre">Intervention</text>
<text x="631.92" y="233.5" font-size="6" fill="#858585" textLength="19.73" lengthAdjust="spacingAndGlyphs" style="white-space:pre">(Home)</text>
<polyline points="368.09,158.41 379.26,158.41 390.43,158.41 401.6,158.41 412.77,158.41 423.94,158.41 435.11,158.41 446.29,158.41" fill="none" stroke="#000" stroke-width="1.4" stroke-linejoin="round" stroke-dasharray="3.4,1.85"/>
<polyline points="468.63,173.47 479.8,173.47 490.97,173.47 502.14,173.47 513.31,173.47 524.49,173.47 535.66,173.47 546.83,173.47 558,173.47 569.17,173.47 580.34,173.47 591.51,173.47" fill="none" stroke="#000" stroke-width="1.4" stroke-linejoin="round" stroke-dasharray="3.4,1.85"/>
<polyline points="613.86,183.52 625.03,183.52 636.2,183.52 647.37,183.52 658.54,183.52 669.71,183.52" fill="none" stroke="#000" stroke-width="1.4" stroke-linejoin="round" stroke-dasharray="3.4,1.85"/>
<polyline points="368.09,170.2 379.26,170.2 390.43,170.2 401.6,170.2 412.77,170.2 423.94,170.2 435.11,170.2 446.29,170.2" fill="none" stroke="#000" stroke-width="1.4" stroke-linejoin="round" stroke-dasharray="3.4,1.85"/>
<polyline points="468.63,181.33 479.8,181.33 490.97,181.33 502.14,181.33 513.31,181.33 524.49,181.33 535.66,181.33 546.83,181.33 558,181.33 569.17,181.33 580.34,181.33 591.51,181.33" fill="none" stroke="#000" stroke-width="1.4" stroke-linejoin="round" stroke-dasharray="3.4,1.85"/>
<polyline points="613.86,188.76 625.03,188.76 636.2,188.76 647.37,188.76 658.54,188.76 669.71,188.76" fill="none" stroke="#000" stroke-width="1.4" stroke-linejoin="round" stroke-dasharray="3.4,1.85"/>
<polyline points="368.09,159.94 379.26,159.94 390.43,159.94 401.6,159.94 412.77,168.67 423.94,168.67 435.11,168.67 446.29,168.67" fill="none" stroke="#000" stroke-width="1.5" stroke-linejoin="round"/>
<rect x="366.39" y="158.24" width="3.4" height="3.4" fill="#000"/>
<rect x="377.56" y="158.24" width="3.4" height="3.4" fill="#000"/>
<rect x="388.73" y="158.24" width="3.4" height="3.4" fill="#000"/>
<rect x="399.9" y="158.24" width="3.4" height="3.4" fill="#000"/>
<rect x="411.07" y="166.97" width="3.4" height="3.4" fill="#000"/>
<rect x="422.24" y="166.97" width="3.4" height="3.4" fill="#000"/>
<rect x="433.41" y="166.97" width="3.4" height="3.4" fill="#000"/>
<rect x="444.59" y="166.97" width="3.4" height="3.4" fill="#000"/>
<polyline points="468.63,168.67 479.8,168.67 490.97,177.4 502.14,177.4 513.31,177.4 524.49,177.4 535.66,168.67 546.83,177.4 558,177.4 569.17,177.4 580.34,177.4 591.51,177.4" fill="none" stroke="#000" stroke-width="1.5" stroke-linejoin="round"/>
<rect x="466.93" y="166.97" width="3.4" height="3.4" fill="#000"/>
<rect x="478.1" y="166.97" width="3.4" height="3.4" fill="#000"/>
<rect x="489.27" y="175.7" width="3.4" height="3.4" fill="#000"/>
<rect x="500.44" y="175.7" width="3.4" height="3.4" fill="#000"/>
<rect x="511.61" y="175.7" width="3.4" height="3.4" fill="#000"/>
<rect x="522.79" y="175.7" width="3.4" height="3.4" fill="#000"/>
<rect x="533.96" y="166.97" width="3.4" height="3.4" fill="#000"/>
<rect x="545.13" y="175.7" width="3.4" height="3.4" fill="#000"/>
<rect x="556.3" y="175.7" width="3.4" height="3.4" fill="#000"/>
<rect x="567.47" y="175.7" width="3.4" height="3.4" fill="#000"/>
<rect x="578.64" y="175.7" width="3.4" height="3.4" fill="#000"/>
<rect x="589.81" y="175.7" width="3.4" height="3.4" fill="#000"/>
<polyline points="613.86,177.4 625.03,194.87 636.2,186.14 647.37,186.14 658.54,194.87 669.71,186.14" fill="none" stroke="#000" stroke-width="1.5" stroke-linejoin="round"/>
<rect x="612.16" y="175.7" width="3.4" height="3.4" fill="#000"/>
<rect x="623.33" y="193.17" width="3.4" height="3.4" fill="#000"/>
<rect x="634.5" y="184.44" width="3.4" height="3.4" fill="#000"/>
<rect x="645.67" y="184.44" width="3.4" height="3.4" fill="#000"/>
<rect x="656.84" y="193.17" width="3.4" height="3.4" fill="#000"/>
<rect x="668.01" y="184.44" width="3.4" height="3.4" fill="#000"/>
<line x1="428.2" y1="245.1" x2="446.9" y2="245.1" stroke="#000" stroke-width="1.35"/>
<rect x="436.05" y="243.6" width="3" height="3" fill="#000"/>
<text x="448.76" y="247.2" font-size="6" fill="#7a7a7a" textLength="13.42" lengthAdjust="spacingAndGlyphs" style="white-space:pre">OB %</text>
<line x1="472" y1="245.1" x2="490.8" y2="245.1" stroke="#000" stroke-width="1.4" stroke-dasharray="3.4,1.85"/>
<text x="491.53" y="247.2" font-size="6" fill="#7a7a7a" textLength="36.13" lengthAdjust="spacingAndGlyphs" style="white-space:pre">Stability (Top)</text>
<line x1="537.5" y1="245.1" x2="556.5" y2="245.1" stroke="#000" stroke-width="1.4" stroke-dasharray="3.4,1.85"/>
<text x="557.73" y="247.2" font-size="6" fill="#7a7a7a" textLength="45.84" lengthAdjust="spacingAndGlyphs" style="white-space:pre">Stability (Bottom)</text>
<rect x="0.5" y="257.4" width="337.5" height="126.4" fill="#fff" stroke="#e2e2e2" stroke-width="1"/>
<text x="94.86" y="272" font-size="8.6" fill="#2e2e2e" textLength="7.17" lengthAdjust="spacingAndGlyphs" style="white-space:pre" stroke="#2e2e2e" stroke-width="0.2">5.</text>
<text x="104.66" y="272" font-size="8.6" fill="#2e2e2e" textLength="52.49" lengthAdjust="spacingAndGlyphs" style="white-space:pre" stroke="#2e2e2e" stroke-width="0.2">Participant#1</text>
<text x="161.48" y="272" font-size="8.6" fill="#2e2e2e" textLength="16.88" lengthAdjust="spacingAndGlyphs" style="white-space:pre" stroke="#2e2e2e" stroke-width="0.2">Odd</text>
<text x="181.68" y="272" font-size="8.6" fill="#2e2e2e" textLength="40.52" lengthAdjust="spacingAndGlyphs" style="white-space:pre" stroke="#2e2e2e" stroke-width="0.2">Behavious</text>
<text x="226.15" y="272" font-size="8.6" fill="#2e2e2e" textLength="16.72" lengthAdjust="spacingAndGlyphs" style="white-space:pre" stroke="#2e2e2e" stroke-width="0.2">PND</text>
<line x1="15.1" y1="332.4" x2="17.5" y2="332.4" stroke="#404040" stroke-width="0.9"/>
<text x="8.65" y="334.42" font-size="5.8" fill="#7a7a7a" textLength="3.39" lengthAdjust="spacingAndGlyphs" style="white-space:pre">0</text>
<line x1="15.1" y1="325.39" x2="17.5" y2="325.39" stroke="#404040" stroke-width="0.9"/>
<text x="8.66" y="327.41" font-size="5.8" fill="#7a7a7a" textLength="3.39" lengthAdjust="spacingAndGlyphs" style="white-space:pre">5</text>
<line x1="15.1" y1="318.37" x2="17.5" y2="318.37" stroke="#404040" stroke-width="0.9"/>
<text x="5.27" y="320.39" font-size="5.8" fill="#7a7a7a" textLength="6.77" lengthAdjust="spacingAndGlyphs" style="white-space:pre">10</text>
<line x1="15.1" y1="311.36" x2="17.5" y2="311.36" stroke="#404040" stroke-width="0.9"/>
<text x="5.28" y="313.38" font-size="5.8" fill="#7a7a7a" textLength="6.77" lengthAdjust="spacingAndGlyphs" style="white-space:pre">15</text>
<line x1="15.1" y1="304.34" x2="17.5" y2="304.34" stroke="#404040" stroke-width="0.9"/>
<text x="5.27" y="306.37" font-size="5.8" fill="#7a7a7a" textLength="6.77" lengthAdjust="spacingAndGlyphs" style="white-space:pre">20</text>
<line x1="15.1" y1="297.33" x2="17.5" y2="297.33" stroke="#404040" stroke-width="0.9"/>
<text x="5.28" y="299.35" font-size="5.8" fill="#7a7a7a" textLength="6.77" lengthAdjust="spacingAndGlyphs" style="white-space:pre">25</text>
<line x1="15.1" y1="290.31" x2="17.5" y2="290.31" stroke="#404040" stroke-width="0.9"/>
<text x="5.27" y="292.34" font-size="5.8" fill="#7a7a7a" textLength="6.77" lengthAdjust="spacingAndGlyphs" style="white-space:pre">30</text>
<line x1="15.1" y1="283.3" x2="17.5" y2="283.3" stroke="#404040" stroke-width="0.9"/>
<text x="5.28" y="285.32" font-size="5.8" fill="#7a7a7a" textLength="6.77" lengthAdjust="spacingAndGlyphs" style="white-space:pre">35</text>
<line x1="17.5" y1="282.85" x2="17.5" y2="332.4" stroke="#404040" stroke-width="0.9"/>
<line x1="17.05" y1="332.4" x2="330.85" y2="332.4" stroke="#404040" stroke-width="0.95"/>
<line x1="17.5" y1="332.4" x2="17.5" y2="364.2" stroke="#404040" stroke-width="0.9"/>
<line x1="28.67" y1="332.4" x2="28.67" y2="344.3" stroke="#404040" stroke-width="0.9"/>
<line x1="39.85" y1="332.4" x2="39.85" y2="344.3" stroke="#404040" stroke-width="0.9"/>
<line x1="51.02" y1="332.4" x2="51.02" y2="344.3" stroke="#404040" stroke-width="0.9"/>
<line x1="62.2" y1="332.4" x2="62.2" y2="344.3" stroke="#404040" stroke-width="0.9"/>
<line x1="73.38" y1="332.4" x2="73.38" y2="344.3" stroke="#404040" stroke-width="0.9"/>
<line x1="84.55" y1="332.4" x2="84.55" y2="344.3" stroke="#404040" stroke-width="0.9"/>
<line x1="95.72" y1="332.4" x2="95.72" y2="344.3" stroke="#404040" stroke-width="0.9"/>
<line x1="106.9" y1="332.4" x2="106.9" y2="364.2" stroke="#404040" stroke-width="0.9"/>
<line x1="118.07" y1="332.4" x2="118.07" y2="344.3" stroke="#404040" stroke-width="0.9"/>
<line x1="129.25" y1="332.4" x2="129.25" y2="344.3" stroke="#404040" stroke-width="0.9"/>
<line x1="140.42" y1="332.4" x2="140.42" y2="344.3" stroke="#404040" stroke-width="0.9"/>
<line x1="151.6" y1="332.4" x2="151.6" y2="344.3" stroke="#404040" stroke-width="0.9"/>
<line x1="162.77" y1="332.4" x2="162.77" y2="344.3" stroke="#404040" stroke-width="0.9"/>
<line x1="173.95" y1="332.4" x2="173.95" y2="344.3" stroke="#404040" stroke-width="0.9"/>
<line x1="185.12" y1="332.4" x2="185.12" y2="344.3" stroke="#404040" stroke-width="0.9"/>
<line x1="196.3" y1="332.4" x2="196.3" y2="344.3" stroke="#404040" stroke-width="0.9"/>
<line x1="207.47" y1="332.4" x2="207.47" y2="344.3" stroke="#404040" stroke-width="0.9"/>
<line x1="218.65" y1="332.4" x2="218.65" y2="344.3" stroke="#404040" stroke-width="0.9"/>
<line x1="229.82" y1="332.4" x2="229.82" y2="344.3" stroke="#404040" stroke-width="0.9"/>
<line x1="241" y1="332.4" x2="241" y2="344.3" stroke="#404040" stroke-width="0.9"/>
<line x1="252.17" y1="332.4" x2="252.17" y2="344.3" stroke="#404040" stroke-width="0.9"/>
<line x1="263.35" y1="332.4" x2="263.35" y2="364.2" stroke="#404040" stroke-width="0.9"/>
<line x1="274.52" y1="332.4" x2="274.52" y2="344.3" stroke="#404040" stroke-width="0.9"/>
<line x1="285.7" y1="332.4" x2="285.7" y2="344.3" stroke="#404040" stroke-width="0.9"/>
<line x1="296.88" y1="332.4" x2="296.88" y2="344.3" stroke="#404040" stroke-width="0.9"/>
<line x1="308.05" y1="332.4" x2="308.05" y2="344.3" stroke="#404040" stroke-width="0.9"/>
<line x1="319.22" y1="332.4" x2="319.22" y2="344.3" stroke="#404040" stroke-width="0.9"/>
<line x1="330.4" y1="332.4" x2="330.4" y2="364.2" stroke="#404040" stroke-width="0.9"/>
<text x="19.86" y="342.4" font-size="6.1" fill="#7a7a7a" textLength="6.27" lengthAdjust="spacingAndGlyphs" style="white-space:pre">B1</text>
<text x="31.04" y="342.4" font-size="6.1" fill="#7a7a7a" textLength="6.28" lengthAdjust="spacingAndGlyphs" style="white-space:pre">B2</text>
<text x="42.22" y="342.4" font-size="6.1" fill="#7a7a7a" textLength="6.24" lengthAdjust="spacingAndGlyphs" style="white-space:pre">B3</text>
<text x="53.4" y="342.4" font-size="6.1" fill="#7a7a7a" textLength="6.16" lengthAdjust="spacingAndGlyphs" style="white-space:pre">B4</text>
<text x="64.57" y="342.4" font-size="6.1" fill="#7a7a7a" textLength="6.23" lengthAdjust="spacingAndGlyphs" style="white-space:pre">B5</text>
<text x="75.74" y="342.4" font-size="6.1" fill="#7a7a7a" textLength="6.24" lengthAdjust="spacingAndGlyphs" style="white-space:pre">B6</text>
<text x="86.91" y="342.4" font-size="6.1" fill="#7a7a7a" textLength="6.28" lengthAdjust="spacingAndGlyphs" style="white-space:pre">B7</text>
<text x="98.09" y="342.4" font-size="6.1" fill="#7a7a7a" textLength="6.24" lengthAdjust="spacingAndGlyphs" style="white-space:pre">B8</text>
<text x="119.85" y="342.4" font-size="6.1" fill="#7a7a7a" textLength="7.34" lengthAdjust="spacingAndGlyphs" style="white-space:pre">II1</text>
<text x="131.03" y="342.4" font-size="6.1" fill="#7a7a7a" textLength="7.36" lengthAdjust="spacingAndGlyphs" style="white-space:pre">II2</text>
<text x="142.21" y="342.4" font-size="6.1" fill="#7a7a7a" textLength="7.3" lengthAdjust="spacingAndGlyphs" style="white-space:pre">II3</text>
<text x="153.39" y="342.4" font-size="6.1" fill="#7a7a7a" textLength="7.19" lengthAdjust="spacingAndGlyphs" style="white-space:pre">II4</text>
<text x="164.56" y="342.4" font-size="6.1" fill="#7a7a7a" textLength="7.28" lengthAdjust="spacingAndGlyphs" style="white-space:pre">II5</text>
<text x="175.73" y="342.4" font-size="6.1" fill="#7a7a7a" textLength="7.3" lengthAdjust="spacingAndGlyphs" style="white-space:pre">II6</text>
<text x="186.9" y="342.4" font-size="6.1" fill="#7a7a7a" textLength="7.36" lengthAdjust="spacingAndGlyphs" style="white-space:pre">II7</text>
<text x="198.08" y="342.4" font-size="6.1" fill="#7a7a7a" textLength="7.3" lengthAdjust="spacingAndGlyphs" style="white-space:pre">II8</text>
<text x="209.25" y="342.4" font-size="6.1" fill="#7a7a7a" textLength="7.32" lengthAdjust="spacingAndGlyphs" style="white-space:pre">II9</text>
<text x="218.86" y="342.4" font-size="6.1" fill="#7a7a7a" textLength="10.42" lengthAdjust="spacingAndGlyphs" style="white-space:pre">II10</text>
<text x="230" y="342.4" font-size="6.1" fill="#7a7a7a" textLength="10.53" lengthAdjust="spacingAndGlyphs" style="white-space:pre">II11</text>
<text x="241.21" y="342.4" font-size="6.1" fill="#7a7a7a" textLength="10.5" lengthAdjust="spacingAndGlyphs" style="white-space:pre">II12</text>
<text x="264.3" y="342.4" font-size="6.1" fill="#7a7a7a" textLength="9.02" lengthAdjust="spacingAndGlyphs" style="white-space:pre">IH1</text>
<text x="275.48" y="342.4" font-size="6.1" fill="#7a7a7a" textLength="9.03" lengthAdjust="spacingAndGlyphs" style="white-space:pre">IH2</text>
<text x="286.65" y="342.4" font-size="6.1" fill="#7a7a7a" textLength="8.99" lengthAdjust="spacingAndGlyphs" style="white-space:pre">IH3</text>
<text x="297.83" y="342.4" font-size="6.1" fill="#7a7a7a" textLength="8.89" lengthAdjust="spacingAndGlyphs" style="white-space:pre">IH4</text>
<text x="309" y="342.4" font-size="6.1" fill="#7a7a7a" textLength="8.97" lengthAdjust="spacingAndGlyphs" style="white-space:pre">IH5</text>
<text x="320.18" y="342.4" font-size="6.1" fill="#7a7a7a" textLength="8.99" lengthAdjust="spacingAndGlyphs" style="white-space:pre">IH6</text>
<text x="51.39" y="355" font-size="6" fill="#858585" textLength="21.4" lengthAdjust="spacingAndGlyphs" style="white-space:pre">Baseline</text>
<text x="168.64" y="355" font-size="6" fill="#858585" textLength="32.78" lengthAdjust="spacingAndGlyphs" style="white-space:pre">Intervention</text>
<text x="171.83" y="362.3" font-size="6" fill="#858585" textLength="26.59" lengthAdjust="spacingAndGlyphs" style="white-space:pre">(Institute)</text>
<text x="280.39" y="355" font-size="6" fill="#858585" textLength="32.78" lengthAdjust="spacingAndGlyphs" style="white-space:pre">Intervention</text>
<text x="287.01" y="362.3" font-size="6" fill="#858585" textLength="19.73" lengthAdjust="spacingAndGlyphs" style="white-space:pre">(Home)</text>
<polyline points="23.09,297.33 34.26,297.33 45.44,297.33 56.61,297.33 67.79,297.33 78.96,297.33 90.14,297.33 101.31,297.33" fill="none" stroke="#000" stroke-width="1.4" stroke-linejoin="round" stroke-dasharray="3.4,1.85"/>
<polyline points="123.66,297.33 134.84,297.33 146.01,297.33 157.19,297.33 168.36,297.33 179.54,297.33 190.71,297.33 201.89,297.33 213.06,297.33 224.24,297.33 235.41,297.33 246.59,297.33" fill="none" stroke="#000" stroke-width="1.4" stroke-linejoin="round" stroke-dasharray="3.4,1.85"/>
<polyline points="268.94,297.33 280.11,297.33 291.29,297.33 302.46,297.33 313.64,297.33 324.81,297.33" fill="none" stroke="#000" stroke-width="1.4" stroke-linejoin="round" stroke-dasharray="3.4,1.85"/>
<polyline points="23.09,288.56 34.26,288.56 45.44,288.56 56.61,288.56 67.79,297.33 78.96,297.33 90.14,297.33 101.31,297.33" fill="none" stroke="#000" stroke-width="1.5" stroke-linejoin="round"/>
<rect x="21.39" y="286.86" width="3.4" height="3.4" fill="#000"/>
<rect x="32.56" y="286.86" width="3.4" height="3.4" fill="#000"/>
<rect x="43.74" y="286.86" width="3.4" height="3.4" fill="#000"/>
<rect x="54.91" y="286.86" width="3.4" height="3.4" fill="#000"/>
<rect x="66.09" y="295.63" width="3.4" height="3.4" fill="#000"/>
<rect x="77.26" y="295.63" width="3.4" height="3.4" fill="#000"/>
<rect x="88.44" y="295.63" width="3.4" height="3.4" fill="#000"/>
<rect x="99.61" y="295.63" width="3.4" height="3.4" fill="#000"/>
<polyline points="123.66,297.33 134.84,297.33 146.01,306.1 157.19,306.1 168.36,306.1 179.54,306.1 190.71,297.33 201.89,306.1 213.06,306.1 224.24,306.1 235.41,306.1 246.59,306.1" fill="none" stroke="#000" stroke-width="1.5" stroke-linejoin="round"/>
<rect x="121.96" y="295.63" width="3.4" height="3.4" fill="#000"/>
<rect x="133.14" y="295.63" width="3.4" height="3.4" fill="#000"/>
<rect x="144.31" y="304.4" width="3.4" height="3.4" fill="#000"/>
<rect x="155.49" y="304.4" width="3.4" height="3.4" fill="#000"/>
<rect x="166.66" y="304.4" width="3.4" height="3.4" fill="#000"/>
<rect x="177.84" y="304.4" width="3.4" height="3.4" fill="#000"/>
<rect x="189.01" y="295.63" width="3.4" height="3.4" fill="#000"/>
<rect x="200.19" y="304.4" width="3.4" height="3.4" fill="#000"/>
<rect x="211.36" y="304.4" width="3.4" height="3.4" fill="#000"/>
<rect x="222.54" y="304.4" width="3.4" height="3.4" fill="#000"/>
<rect x="233.71" y="304.4" width="3.4" height="3.4" fill="#000"/>
<rect x="244.89" y="304.4" width="3.4" height="3.4" fill="#000"/>
<polyline points="268.94,306.1 280.11,323.63 291.29,314.86 302.46,314.86 313.64,323.63 324.81,314.86" fill="none" stroke="#000" stroke-width="1.5" stroke-linejoin="round"/>
<rect x="267.24" y="304.4" width="3.4" height="3.4" fill="#000"/>
<rect x="278.41" y="321.93" width="3.4" height="3.4" fill="#000"/>
<rect x="289.59" y="313.16" width="3.4" height="3.4" fill="#000"/>
<rect x="300.76" y="313.16" width="3.4" height="3.4" fill="#000"/>
<rect x="311.94" y="321.93" width="3.4" height="3.4" fill="#000"/>
<rect x="323.11" y="313.16" width="3.4" height="3.4" fill="#000"/>
<line x1="139" y1="370.4" x2="157.4" y2="370.4" stroke="#000" stroke-width="1.35"/>
<rect x="146.7" y="368.9" width="3" height="3" fill="#000"/>
<text x="158.64" y="372.5" font-size="6" fill="#7a7a7a" textLength="14.14" lengthAdjust="spacingAndGlyphs" style="white-space:pre">OB %</text>
<line x1="181.4" y1="370.4" x2="200.4" y2="370.4" stroke="#000" stroke-width="1.4" stroke-dasharray="3.4,1.85"/>
<text x="201.04" y="372.5" font-size="6" fill="#7a7a7a" textLength="24.1" lengthAdjust="spacingAndGlyphs" style="white-space:pre">PND Line</text>
<rect x="346.5" y="258.4" width="337.3" height="125.9" fill="#fff" stroke="#e2e2e2" stroke-width="1"/>
<text x="438.77" y="272.7" font-size="8.6" fill="#2e2e2e" textLength="7.17" lengthAdjust="spacingAndGlyphs" style="white-space:pre" stroke="#2e2e2e" stroke-width="0.2">6.</text>
<text x="448.46" y="272.7" font-size="8.6" fill="#2e2e2e" textLength="52.69" lengthAdjust="spacingAndGlyphs" style="white-space:pre" stroke="#2e2e2e" stroke-width="0.2">Participant#1</text>
<text x="505.79" y="272.7" font-size="8.6" fill="#2e2e2e" textLength="16.35" lengthAdjust="spacingAndGlyphs" style="white-space:pre" stroke="#2e2e2e" stroke-width="0.2">Odd</text>
<text x="525.38" y="272.7" font-size="8.6" fill="#2e2e2e" textLength="43.73" lengthAdjust="spacingAndGlyphs" style="white-space:pre" stroke="#2e2e2e" stroke-width="0.2">Behaviours</text>
<text x="572.9" y="272.7" font-size="8.6" fill="#2e2e2e" textLength="18.4" lengthAdjust="spacingAndGlyphs" style="white-space:pre" stroke="#2e2e2e" stroke-width="0.2">PEM</text>
<line x1="360.8" y1="333" x2="363.2" y2="333" stroke="#404040" stroke-width="0.9"/>
<text x="354.15" y="335.02" font-size="5.8" fill="#7a7a7a" textLength="3.39" lengthAdjust="spacingAndGlyphs" style="white-space:pre">0</text>
<line x1="360.8" y1="326.01" x2="363.2" y2="326.01" stroke="#404040" stroke-width="0.9"/>
<text x="354.16" y="328.04" font-size="5.8" fill="#7a7a7a" textLength="3.39" lengthAdjust="spacingAndGlyphs" style="white-space:pre">5</text>
<line x1="360.8" y1="319.03" x2="363.2" y2="319.03" stroke="#404040" stroke-width="0.9"/>
<text x="350.77" y="321.05" font-size="5.8" fill="#7a7a7a" textLength="6.77" lengthAdjust="spacingAndGlyphs" style="white-space:pre">10</text>
<line x1="360.8" y1="312.04" x2="363.2" y2="312.04" stroke="#404040" stroke-width="0.9"/>
<text x="350.78" y="314.07" font-size="5.8" fill="#7a7a7a" textLength="6.77" lengthAdjust="spacingAndGlyphs" style="white-space:pre">15</text>
<line x1="360.8" y1="305.06" x2="363.2" y2="305.06" stroke="#404040" stroke-width="0.9"/>
<text x="350.77" y="307.08" font-size="5.8" fill="#7a7a7a" textLength="6.77" lengthAdjust="spacingAndGlyphs" style="white-space:pre">20</text>
<line x1="360.8" y1="298.07" x2="363.2" y2="298.07" stroke="#404040" stroke-width="0.9"/>
<text x="350.78" y="300.09" font-size="5.8" fill="#7a7a7a" textLength="6.77" lengthAdjust="spacingAndGlyphs" style="white-space:pre">25</text>
<line x1="360.8" y1="291.09" x2="363.2" y2="291.09" stroke="#404040" stroke-width="0.9"/>
<text x="350.77" y="293.11" font-size="5.8" fill="#7a7a7a" textLength="6.77" lengthAdjust="spacingAndGlyphs" style="white-space:pre">30</text>
<line x1="360.8" y1="284.1" x2="363.2" y2="284.1" stroke="#404040" stroke-width="0.9"/>
<text x="350.78" y="286.12" font-size="5.8" fill="#7a7a7a" textLength="6.77" lengthAdjust="spacingAndGlyphs" style="white-space:pre">35</text>
<line x1="363.2" y1="283.65" x2="363.2" y2="333" stroke="#404040" stroke-width="0.9"/>
<line x1="362.75" y1="333" x2="676.75" y2="333" stroke="#404040" stroke-width="0.95"/>
<line x1="363.2" y1="333" x2="363.2" y2="364.6" stroke="#404040" stroke-width="0.9"/>
<line x1="374.38" y1="333" x2="374.38" y2="344.9" stroke="#404040" stroke-width="0.9"/>
<line x1="385.56" y1="333" x2="385.56" y2="344.9" stroke="#404040" stroke-width="0.9"/>
<line x1="396.75" y1="333" x2="396.75" y2="344.9" stroke="#404040" stroke-width="0.9"/>
<line x1="407.93" y1="333" x2="407.93" y2="344.9" stroke="#404040" stroke-width="0.9"/>
<line x1="419.11" y1="333" x2="419.11" y2="344.9" stroke="#404040" stroke-width="0.9"/>
<line x1="430.29" y1="333" x2="430.29" y2="344.9" stroke="#404040" stroke-width="0.9"/>
<line x1="441.47" y1="333" x2="441.47" y2="344.9" stroke="#404040" stroke-width="0.9"/>
<line x1="452.66" y1="333" x2="452.66" y2="364.6" stroke="#404040" stroke-width="0.9"/>
<line x1="463.84" y1="333" x2="463.84" y2="344.9" stroke="#404040" stroke-width="0.9"/>
<line x1="475.02" y1="333" x2="475.02" y2="344.9" stroke="#404040" stroke-width="0.9"/>
<line x1="486.2" y1="333" x2="486.2" y2="344.9" stroke="#404040" stroke-width="0.9"/>
<line x1="497.39" y1="333" x2="497.39" y2="344.9" stroke="#404040" stroke-width="0.9"/>
<line x1="508.57" y1="333" x2="508.57" y2="344.9" stroke="#404040" stroke-width="0.9"/>
<line x1="519.75" y1="333" x2="519.75" y2="344.9" stroke="#404040" stroke-width="0.9"/>
<line x1="530.93" y1="333" x2="530.93" y2="344.9" stroke="#404040" stroke-width="0.9"/>
<line x1="542.11" y1="333" x2="542.11" y2="344.9" stroke="#404040" stroke-width="0.9"/>
<line x1="553.3" y1="333" x2="553.3" y2="344.9" stroke="#404040" stroke-width="0.9"/>
<line x1="564.48" y1="333" x2="564.48" y2="344.9" stroke="#404040" stroke-width="0.9"/>
<line x1="575.66" y1="333" x2="575.66" y2="344.9" stroke="#404040" stroke-width="0.9"/>
<line x1="586.84" y1="333" x2="586.84" y2="344.9" stroke="#404040" stroke-width="0.9"/>
<line x1="598.02" y1="333" x2="598.02" y2="344.9" stroke="#404040" stroke-width="0.9"/>
<line x1="609.21" y1="333" x2="609.21" y2="364.6" stroke="#404040" stroke-width="0.9"/>
<line x1="620.39" y1="333" x2="620.39" y2="344.9" stroke="#404040" stroke-width="0.9"/>
<line x1="631.57" y1="333" x2="631.57" y2="344.9" stroke="#404040" stroke-width="0.9"/>
<line x1="642.75" y1="333" x2="642.75" y2="344.9" stroke="#404040" stroke-width="0.9"/>
<line x1="653.94" y1="333" x2="653.94" y2="344.9" stroke="#404040" stroke-width="0.9"/>
<line x1="665.12" y1="333" x2="665.12" y2="344.9" stroke="#404040" stroke-width="0.9"/>
<line x1="676.3" y1="333" x2="676.3" y2="364.6" stroke="#404040" stroke-width="0.9"/>
<text x="365.57" y="343" font-size="6.1" fill="#7a7a7a" textLength="6.27" lengthAdjust="spacingAndGlyphs" style="white-space:pre">B1</text>
<text x="376.75" y="343" font-size="6.1" fill="#7a7a7a" textLength="6.28" lengthAdjust="spacingAndGlyphs" style="white-space:pre">B2</text>
<text x="387.93" y="343" font-size="6.1" fill="#7a7a7a" textLength="6.24" lengthAdjust="spacingAndGlyphs" style="white-space:pre">B3</text>
<text x="399.12" y="343" font-size="6.1" fill="#7a7a7a" textLength="6.16" lengthAdjust="spacingAndGlyphs" style="white-space:pre">B4</text>
<text x="410.3" y="343" font-size="6.1" fill="#7a7a7a" textLength="6.23" lengthAdjust="spacingAndGlyphs" style="white-space:pre">B5</text>
<text x="421.48" y="343" font-size="6.1" fill="#7a7a7a" textLength="6.24" lengthAdjust="spacingAndGlyphs" style="white-space:pre">B6</text>
<text x="432.66" y="343" font-size="6.1" fill="#7a7a7a" textLength="6.28" lengthAdjust="spacingAndGlyphs" style="white-space:pre">B7</text>
<text x="443.85" y="343" font-size="6.1" fill="#7a7a7a" textLength="6.24" lengthAdjust="spacingAndGlyphs" style="white-space:pre">B8</text>
<text x="465.62" y="343" font-size="6.1" fill="#7a7a7a" textLength="7.34" lengthAdjust="spacingAndGlyphs" style="white-space:pre">II1</text>
<text x="476.8" y="343" font-size="6.1" fill="#7a7a7a" textLength="7.36" lengthAdjust="spacingAndGlyphs" style="white-space:pre">II2</text>
<text x="487.99" y="343" font-size="6.1" fill="#7a7a7a" textLength="7.3" lengthAdjust="spacingAndGlyphs" style="white-space:pre">II3</text>
<text x="499.18" y="343" font-size="6.1" fill="#7a7a7a" textLength="7.19" lengthAdjust="spacingAndGlyphs" style="white-space:pre">II4</text>
<text x="510.35" y="343" font-size="6.1" fill="#7a7a7a" textLength="7.28" lengthAdjust="spacingAndGlyphs" style="white-space:pre">II5</text>
<text x="521.53" y="343" font-size="6.1" fill="#7a7a7a" textLength="7.3" lengthAdjust="spacingAndGlyphs" style="white-space:pre">II6</text>
<text x="532.71" y="343" font-size="6.1" fill="#7a7a7a" textLength="7.36" lengthAdjust="spacingAndGlyphs" style="white-space:pre">II7</text>
<text x="543.9" y="343" font-size="6.1" fill="#7a7a7a" textLength="7.3" lengthAdjust="spacingAndGlyphs" style="white-space:pre">II8</text>
<text x="555.08" y="343" font-size="6.1" fill="#7a7a7a" textLength="7.32" lengthAdjust="spacingAndGlyphs" style="white-space:pre">II9</text>
<text x="564.69" y="343" font-size="6.1" fill="#7a7a7a" textLength="10.42" lengthAdjust="spacingAndGlyphs" style="white-space:pre">II10</text>
<text x="575.84" y="343" font-size="6.1" fill="#7a7a7a" textLength="10.53" lengthAdjust="spacingAndGlyphs" style="white-space:pre">II11</text>
<text x="587.05" y="343" font-size="6.1" fill="#7a7a7a" textLength="10.5" lengthAdjust="spacingAndGlyphs" style="white-space:pre">II12</text>
<text x="610.16" y="343" font-size="6.1" fill="#7a7a7a" textLength="9.02" lengthAdjust="spacingAndGlyphs" style="white-space:pre">IH1</text>
<text x="621.34" y="343" font-size="6.1" fill="#7a7a7a" textLength="9.03" lengthAdjust="spacingAndGlyphs" style="white-space:pre">IH2</text>
<text x="632.53" y="343" font-size="6.1" fill="#7a7a7a" textLength="8.99" lengthAdjust="spacingAndGlyphs" style="white-space:pre">IH3</text>
<text x="643.72" y="343" font-size="6.1" fill="#7a7a7a" textLength="8.89" lengthAdjust="spacingAndGlyphs" style="white-space:pre">IH4</text>
<text x="654.89" y="343" font-size="6.1" fill="#7a7a7a" textLength="8.97" lengthAdjust="spacingAndGlyphs" style="white-space:pre">IH5</text>
<text x="666.07" y="343" font-size="6.1" fill="#7a7a7a" textLength="8.99" lengthAdjust="spacingAndGlyphs" style="white-space:pre">IH6</text>
<text x="397.12" y="355.6" font-size="6" fill="#858585" textLength="21.4" lengthAdjust="spacingAndGlyphs" style="white-space:pre">Baseline</text>
<text x="514.45" y="355.6" font-size="6" fill="#858585" textLength="32.78" lengthAdjust="spacingAndGlyphs" style="white-space:pre">Intervention</text>
<text x="517.63" y="362.9" font-size="6" fill="#858585" textLength="26.59" lengthAdjust="spacingAndGlyphs" style="white-space:pre">(Institute)</text>
<text x="626.27" y="355.6" font-size="6" fill="#858585" textLength="32.78" lengthAdjust="spacingAndGlyphs" style="white-space:pre">Intervention</text>
<text x="632.88" y="362.9" font-size="6" fill="#858585" textLength="19.73" lengthAdjust="spacingAndGlyphs" style="white-space:pre">(Home)</text>
<polyline points="368.79,293.71 379.97,293.71 391.16,293.71 402.34,293.71 413.52,293.71 424.7,293.71 435.88,293.71 447.07,293.71" fill="none" stroke="#000" stroke-width="1.4" stroke-linejoin="round" stroke-dasharray="3.4,1.85"/>
<polyline points="469.43,293.71 480.61,293.71 491.79,293.71 502.98,293.71 514.16,293.71 525.34,293.71 536.52,293.71 547.71,293.71 558.89,293.71 570.07,293.71 581.25,293.71 592.43,293.71" fill="none" stroke="#000" stroke-width="1.4" stroke-linejoin="round" stroke-dasharray="3.4,1.85"/>
<polyline points="614.8,293.71 625.98,293.71 637.16,293.71 648.34,293.71 659.53,293.71 670.71,293.71" fill="none" stroke="#000" stroke-width="1.4" stroke-linejoin="round" stroke-dasharray="3.4,1.85"/>
<polyline points="368.79,289.34 379.97,289.34 391.16,289.34 402.34,289.34 413.52,298.07 424.7,298.07 435.88,298.07 447.07,298.07" fill="none" stroke="#000" stroke-width="1.5" stroke-linejoin="round"/>
<rect x="367.09" y="287.64" width="3.4" height="3.4" fill="#000"/>
<rect x="378.27" y="287.64" width="3.4" height="3.4" fill="#000"/>
<rect x="389.46" y="287.64" width="3.4" height="3.4" fill="#000"/>
<rect x="400.64" y="287.64" width="3.4" height="3.4" fill="#000"/>
<rect x="411.82" y="296.37" width="3.4" height="3.4" fill="#000"/>
<rect x="423" y="296.37" width="3.4" height="3.4" fill="#000"/>
<rect x="434.18" y="296.37" width="3.4" height="3.4" fill="#000"/>
<rect x="445.37" y="296.37" width="3.4" height="3.4" fill="#000"/>
<polyline points="469.43,298.07 480.61,298.07 491.79,306.8 502.98,306.8 514.16,306.8 525.34,306.8 536.52,298.07 547.71,306.8 558.89,306.8 570.07,306.8 581.25,306.8 592.43,306.8" fill="none" stroke="#000" stroke-width="1.5" stroke-linejoin="round"/>
<rect x="467.73" y="296.37" width="3.4" height="3.4" fill="#000"/>
<rect x="478.91" y="296.37" width="3.4" height="3.4" fill="#000"/>
<rect x="490.09" y="305.1" width="3.4" height="3.4" fill="#000"/>
<rect x="501.28" y="305.1" width="3.4" height="3.4" fill="#000"/>
<rect x="512.46" y="305.1" width="3.4" height="3.4" fill="#000"/>
<rect x="523.64" y="305.1" width="3.4" height="3.4" fill="#000"/>
<rect x="534.82" y="296.37" width="3.4" height="3.4" fill="#000"/>
<rect x="546.01" y="305.1" width="3.4" height="3.4" fill="#000"/>
<rect x="557.19" y="305.1" width="3.4" height="3.4" fill="#000"/>
<rect x="568.37" y="305.1" width="3.4" height="3.4" fill="#000"/>
<rect x="579.55" y="305.1" width="3.4" height="3.4" fill="#000"/>
<rect x="590.73" y="305.1" width="3.4" height="3.4" fill="#000"/>
<polyline points="614.8,306.8 625.98,324.27 637.16,315.54 648.34,315.54 659.53,324.27 670.71,315.54" fill="none" stroke="#000" stroke-width="1.5" stroke-linejoin="round"/>
<rect x="613.1" y="305.1" width="3.4" height="3.4" fill="#000"/>
<rect x="624.28" y="322.57" width="3.4" height="3.4" fill="#000"/>
<rect x="635.46" y="313.84" width="3.4" height="3.4" fill="#000"/>
<rect x="646.64" y="313.84" width="3.4" height="3.4" fill="#000"/>
<rect x="657.83" y="322.57" width="3.4" height="3.4" fill="#000"/>
<rect x="669.01" y="313.84" width="3.4" height="3.4" fill="#000"/>
<line x1="484.6" y1="371.5" x2="502.8" y2="371.5" stroke="#000" stroke-width="1.35"/>
<rect x="492.2" y="370" width="3" height="3" fill="#000"/>
<text x="504.45" y="373.6" font-size="6" fill="#7a7a7a" textLength="13.94" lengthAdjust="spacingAndGlyphs" style="white-space:pre">OB %</text>
<line x1="526.9" y1="371.5" x2="545.6" y2="371.5" stroke="#000" stroke-width="1.4" stroke-dasharray="3.4,1.85"/>
<text x="546.94" y="373.6" font-size="6" fill="#7a7a7a" textLength="24.1" lengthAdjust="spacingAndGlyphs" style="white-space:pre">PEM Line</text>
<rect x="0.5" y="386.1" width="337.5" height="126.2" fill="#fff" stroke="#e2e2e2" stroke-width="1"/>
<text x="67.57" y="400.8" font-size="8.6" fill="#2e2e2e" textLength="7.17" lengthAdjust="spacingAndGlyphs" style="white-space:pre" stroke="#2e2e2e" stroke-width="0.2">7.</text>
<text x="77.36" y="400.8" font-size="8.6" fill="#2e2e2e" textLength="52.49" lengthAdjust="spacingAndGlyphs" style="white-space:pre" stroke="#2e2e2e" stroke-width="0.2">Participant#1</text>
<text x="134.59" y="400.8" font-size="8.6" fill="#2e2e2e" textLength="16.14" lengthAdjust="spacingAndGlyphs" style="white-space:pre" stroke="#2e2e2e" stroke-width="0.2">Odd</text>
<text x="153.88" y="400.8" font-size="8.6" fill="#2e2e2e" textLength="40.52" lengthAdjust="spacingAndGlyphs" style="white-space:pre" stroke="#2e2e2e" stroke-width="0.2">Behavious</text>
<text x="198.04" y="400.8" font-size="8.6" fill="#2e2e2e" textLength="12.4" lengthAdjust="spacingAndGlyphs" style="white-space:pre" stroke="#2e2e2e" stroke-width="0.2">IoE</text>
<text x="213.41" y="400.8" font-size="8.6" fill="#2e2e2e" textLength="20.06" lengthAdjust="spacingAndGlyphs" style="white-space:pre" stroke="#2e2e2e" stroke-width="0.2">Level</text>
<text x="236.87" y="400.8" font-size="8.6" fill="#2e2e2e" textLength="33.55" lengthAdjust="spacingAndGlyphs" style="white-space:pre" stroke="#2e2e2e" stroke-width="0.2">(BL vs II)</text>
<line x1="15.1" y1="460.9" x2="17.5" y2="460.9" stroke="#404040" stroke-width="0.9"/>
<text x="8.65" y="462.92" font-size="5.8" fill="#7a7a7a" textLength="3.39" lengthAdjust="spacingAndGlyphs" style="white-space:pre">0</text>
<line x1="15.1" y1="452.8" x2="17.5" y2="452.8" stroke="#404040" stroke-width="0.9"/>
<text x="8.66" y="454.82" font-size="5.8" fill="#7a7a7a" textLength="3.39" lengthAdjust="spacingAndGlyphs" style="white-space:pre">5</text>
<line x1="15.1" y1="444.7" x2="17.5" y2="444.7" stroke="#404040" stroke-width="0.9"/>
<text x="5.27" y="446.72" font-size="5.8" fill="#7a7a7a" textLength="6.77" lengthAdjust="spacingAndGlyphs" style="white-space:pre">10</text>
<line x1="15.1" y1="436.6" x2="17.5" y2="436.6" stroke="#404040" stroke-width="0.9"/>
<text x="5.28" y="438.62" font-size="5.8" fill="#7a7a7a" textLength="6.77" lengthAdjust="spacingAndGlyphs" style="white-space:pre">15</text>
<line x1="15.1" y1="428.5" x2="17.5" y2="428.5" stroke="#404040" stroke-width="0.9"/>
<text x="5.27" y="430.52" font-size="5.8" fill="#7a7a7a" textLength="6.77" lengthAdjust="spacingAndGlyphs" style="white-space:pre">20</text>
<line x1="15.1" y1="420.4" x2="17.5" y2="420.4" stroke="#404040" stroke-width="0.9"/>
<text x="5.28" y="422.42" font-size="5.8" fill="#7a7a7a" textLength="6.77" lengthAdjust="spacingAndGlyphs" style="white-space:pre">25</text>
<line x1="15.1" y1="412.3" x2="17.5" y2="412.3" stroke="#404040" stroke-width="0.9"/>
<text x="5.27" y="414.32" font-size="5.8" fill="#7a7a7a" textLength="6.77" lengthAdjust="spacingAndGlyphs" style="white-space:pre">30</text>
<line x1="17.5" y1="411.85" x2="17.5" y2="460.9" stroke="#404040" stroke-width="0.9"/>
<line x1="17.05" y1="460.9" x2="330.35" y2="460.9" stroke="#404040" stroke-width="0.95"/>
<line x1="17.5" y1="460.9" x2="17.5" y2="492.8" stroke="#404040" stroke-width="0.9"/>
<line x1="62.13" y1="460.9" x2="62.13" y2="473" stroke="#404040" stroke-width="0.9"/>
<line x1="106.76" y1="460.9" x2="106.76" y2="473" stroke="#404040" stroke-width="0.9"/>
<line x1="151.39" y1="460.9" x2="151.39" y2="492.8" stroke="#404040" stroke-width="0.9"/>
<line x1="196.01" y1="460.9" x2="196.01" y2="473" stroke="#404040" stroke-width="0.9"/>
<line x1="240.64" y1="460.9" x2="240.64" y2="473" stroke="#404040" stroke-width="0.9"/>
<line x1="285.27" y1="460.9" x2="285.27" y2="473" stroke="#404040" stroke-width="0.9"/>
<line x1="329.9" y1="460.9" x2="329.9" y2="492.8" stroke="#404040" stroke-width="0.9"/>
<text x="36.59" y="470.9" font-size="6.1" fill="#7a7a7a" textLength="6.24" lengthAdjust="spacingAndGlyphs" style="white-space:pre">B6</text>
<text x="81.22" y="470.9" font-size="6.1" fill="#7a7a7a" textLength="6.28" lengthAdjust="spacingAndGlyphs" style="white-space:pre">B7</text>
<text x="125.85" y="470.9" font-size="6.1" fill="#7a7a7a" textLength="6.24" lengthAdjust="spacingAndGlyphs" style="white-space:pre">B8</text>
<text x="214.52" y="470.9" font-size="6.1" fill="#7a7a7a" textLength="7.34" lengthAdjust="spacingAndGlyphs" style="white-space:pre">II1</text>
<text x="259.15" y="470.9" font-size="6.1" fill="#7a7a7a" textLength="7.36" lengthAdjust="spacingAndGlyphs" style="white-space:pre">II2</text>
<text x="303.78" y="470.9" font-size="6.1" fill="#7a7a7a" textLength="7.3" lengthAdjust="spacingAndGlyphs" style="white-space:pre">II3</text>
<text x="73.63" y="483.5" font-size="6" fill="#858585" textLength="21.4" lengthAdjust="spacingAndGlyphs" style="white-space:pre">Baseline</text>
<text x="224.16" y="483.5" font-size="6" fill="#858585" textLength="32.78" lengthAdjust="spacingAndGlyphs" style="white-space:pre">Intervention</text>
<text x="227.34" y="490.8" font-size="6" fill="#858585" textLength="26.59" lengthAdjust="spacingAndGlyphs" style="white-space:pre">(Institute)</text>
<polyline points="39.81,415.34 84.44,415.34 129.07,415.34" fill="none" stroke="#000" stroke-width="1.4" stroke-linejoin="round" stroke-dasharray="3.4,1.85"/>
<polyline points="218.33,427.99 262.96,427.99 307.59,427.99" fill="none" stroke="#000" stroke-width="1.4" stroke-linejoin="round" stroke-dasharray="3.4,1.85"/>
<polyline points="39.81,420.4 84.44,420.4 129.07,420.4" fill="none" stroke="#000" stroke-width="1.5" stroke-linejoin="round"/>
<rect x="38.11" y="418.7" width="3.4" height="3.4" fill="#000"/>
<rect x="82.74" y="418.7" width="3.4" height="3.4" fill="#000"/>
<rect x="127.37" y="418.7" width="3.4" height="3.4" fill="#000"/>
<polyline points="218.33,420.4 262.96,420.4 307.59,430.52" fill="none" stroke="#000" stroke-width="1.5" stroke-linejoin="round"/>
<rect x="216.63" y="418.7" width="3.4" height="3.4" fill="#000"/>
<rect x="261.26" y="418.7" width="3.4" height="3.4" fill="#000"/>
<rect x="305.89" y="428.82" width="3.4" height="3.4" fill="#000"/>
<line x1="135.7" y1="499.4" x2="153.7" y2="499.4" stroke="#000" stroke-width="1.35"/>
<rect x="143.2" y="497.9" width="3" height="3" fill="#000"/>
<text x="155.55" y="501.5" font-size="6" fill="#7a7a7a" textLength="13.63" lengthAdjust="spacingAndGlyphs" style="white-space:pre">OB %</text>
<line x1="175.2" y1="499.4" x2="193.6" y2="499.4" stroke="#000" stroke-width="1.4" stroke-dasharray="3.4,1.85"/>
<text x="194.12" y="501.5" font-size="6" fill="#7a7a7a" textLength="34.14" lengthAdjust="spacingAndGlyphs" style="white-space:pre">Level (Mean)</text>
<rect x="347.5" y="386.4" width="336.9" height="125.9" fill="#fff" stroke="#e2e2e2" stroke-width="1"/>
<text x="432.83" y="400.7" font-size="8.6" fill="#2e2e2e" textLength="7.17" lengthAdjust="spacingAndGlyphs" style="white-space:pre" stroke="#2e2e2e" stroke-width="0.2">8.</text>
<text x="442.65" y="400.7" font-size="8.6" fill="#2e2e2e" textLength="52.9" lengthAdjust="spacingAndGlyphs" style="white-space:pre" stroke="#2e2e2e" stroke-width="0.2">Participant#1</text>
<text x="499.78" y="400.7" font-size="8.6" fill="#2e2e2e" textLength="16.57" lengthAdjust="spacingAndGlyphs" style="white-space:pre" stroke="#2e2e2e" stroke-width="0.2">Odd</text>
<text x="519.78" y="400.7" font-size="8.6" fill="#2e2e2e" textLength="43.42" lengthAdjust="spacingAndGlyphs" style="white-space:pre" stroke="#2e2e2e" stroke-width="0.2">Behaviours</text>
<text x="567.21" y="400.7" font-size="8.6" fill="#2e2e2e" textLength="31.17" lengthAdjust="spacingAndGlyphs" style="white-space:pre" stroke="#2e2e2e" stroke-width="0.2">BL vs IH</text>
<line x1="361.4" y1="460.9" x2="363.8" y2="460.9" stroke="#404040" stroke-width="0.9"/>
<text x="354.45" y="462.92" font-size="5.8" fill="#7a7a7a" textLength="3.39" lengthAdjust="spacingAndGlyphs" style="white-space:pre">0</text>
<line x1="361.4" y1="453.96" x2="363.8" y2="453.96" stroke="#404040" stroke-width="0.9"/>
<text x="354.46" y="455.98" font-size="5.8" fill="#7a7a7a" textLength="3.39" lengthAdjust="spacingAndGlyphs" style="white-space:pre">5</text>
<line x1="361.4" y1="447.01" x2="363.8" y2="447.01" stroke="#404040" stroke-width="0.9"/>
<text x="351.07" y="449.04" font-size="5.8" fill="#7a7a7a" textLength="6.77" lengthAdjust="spacingAndGlyphs" style="white-space:pre">10</text>
<line x1="361.4" y1="440.07" x2="363.8" y2="440.07" stroke="#404040" stroke-width="0.9"/>
<text x="351.08" y="442.09" font-size="5.8" fill="#7a7a7a" textLength="6.77" lengthAdjust="spacingAndGlyphs" style="white-space:pre">15</text>
<line x1="361.4" y1="433.13" x2="363.8" y2="433.13" stroke="#404040" stroke-width="0.9"/>
<text x="351.07" y="435.15" font-size="5.8" fill="#7a7a7a" textLength="6.77" lengthAdjust="spacingAndGlyphs" style="white-space:pre">20</text>
<line x1="361.4" y1="426.19" x2="363.8" y2="426.19" stroke="#404040" stroke-width="0.9"/>
<text x="351.08" y="428.21" font-size="5.8" fill="#7a7a7a" textLength="6.77" lengthAdjust="spacingAndGlyphs" style="white-space:pre">25</text>
<line x1="361.4" y1="419.24" x2="363.8" y2="419.24" stroke="#404040" stroke-width="0.9"/>
<text x="351.07" y="421.27" font-size="5.8" fill="#7a7a7a" textLength="6.77" lengthAdjust="spacingAndGlyphs" style="white-space:pre">30</text>
<line x1="361.4" y1="412.3" x2="363.8" y2="412.3" stroke="#404040" stroke-width="0.9"/>
<text x="351.08" y="414.32" font-size="5.8" fill="#7a7a7a" textLength="6.77" lengthAdjust="spacingAndGlyphs" style="white-space:pre">35</text>
<line x1="363.8" y1="411.85" x2="363.8" y2="460.9" stroke="#404040" stroke-width="0.9"/>
<line x1="363.35" y1="460.9" x2="677.35" y2="460.9" stroke="#404040" stroke-width="0.95"/>
<line x1="363.8" y1="460.9" x2="363.8" y2="492.8" stroke="#404040" stroke-width="0.9"/>
<line x1="383.37" y1="460.9" x2="383.37" y2="473.2" stroke="#404040" stroke-width="0.9"/>
<line x1="402.94" y1="460.9" x2="402.94" y2="473.2" stroke="#404040" stroke-width="0.9"/>
<line x1="422.51" y1="460.9" x2="422.51" y2="473.2" stroke="#404040" stroke-width="0.9"/>
<line x1="442.07" y1="460.9" x2="442.07" y2="473.2" stroke="#404040" stroke-width="0.9"/>
<line x1="461.64" y1="460.9" x2="461.64" y2="473.2" stroke="#404040" stroke-width="0.9"/>
<line x1="481.21" y1="460.9" x2="481.21" y2="473.2" stroke="#404040" stroke-width="0.9"/>
<line x1="500.78" y1="460.9" x2="500.78" y2="473.2" stroke="#404040" stroke-width="0.9"/>
<line x1="520.35" y1="460.9" x2="520.35" y2="492.8" stroke="#404040" stroke-width="0.9"/>
<line x1="539.92" y1="460.9" x2="539.92" y2="473.2" stroke="#404040" stroke-width="0.9"/>
<line x1="559.49" y1="460.9" x2="559.49" y2="492.8" stroke="#404040" stroke-width="0.9"/>
<line x1="579.06" y1="460.9" x2="579.06" y2="473.2" stroke="#404040" stroke-width="0.9"/>
<line x1="598.62" y1="460.9" x2="598.62" y2="473.2" stroke="#404040" stroke-width="0.9"/>
<line x1="618.19" y1="460.9" x2="618.19" y2="473.2" stroke="#404040" stroke-width="0.9"/>
<line x1="637.76" y1="460.9" x2="637.76" y2="473.2" stroke="#404040" stroke-width="0.9"/>
<line x1="657.33" y1="460.9" x2="657.33" y2="473.2" stroke="#404040" stroke-width="0.9"/>
<line x1="676.9" y1="460.9" x2="676.9" y2="492.8" stroke="#404040" stroke-width="0.9"/>
<text x="370.36" y="470.9" font-size="6.1" fill="#7a7a7a" textLength="6.27" lengthAdjust="spacingAndGlyphs" style="white-space:pre">B1</text>
<text x="389.93" y="470.9" font-size="6.1" fill="#7a7a7a" textLength="6.28" lengthAdjust="spacingAndGlyphs" style="white-space:pre">B2</text>
<text x="409.5" y="470.9" font-size="6.1" fill="#7a7a7a" textLength="6.24" lengthAdjust="spacingAndGlyphs" style="white-space:pre">B3</text>
<text x="429.08" y="470.9" font-size="6.1" fill="#7a7a7a" textLength="6.16" lengthAdjust="spacingAndGlyphs" style="white-space:pre">B4</text>
<text x="448.64" y="470.9" font-size="6.1" fill="#7a7a7a" textLength="6.23" lengthAdjust="spacingAndGlyphs" style="white-space:pre">B5</text>
<text x="468.21" y="470.9" font-size="6.1" fill="#7a7a7a" textLength="6.24" lengthAdjust="spacingAndGlyphs" style="white-space:pre">B6</text>
<text x="487.77" y="470.9" font-size="6.1" fill="#7a7a7a" textLength="6.28" lengthAdjust="spacingAndGlyphs" style="white-space:pre">B7</text>
<text x="507.34" y="470.9" font-size="6.1" fill="#7a7a7a" textLength="6.24" lengthAdjust="spacingAndGlyphs" style="white-space:pre">B8</text>
<text x="564.64" y="470.9" font-size="6.1" fill="#7a7a7a" textLength="9.02" lengthAdjust="spacingAndGlyphs" style="white-space:pre">IH1</text>
<text x="584.2" y="470.9" font-size="6.1" fill="#7a7a7a" textLength="9.03" lengthAdjust="spacingAndGlyphs" style="white-space:pre">IH2</text>
<text x="603.78" y="470.9" font-size="6.1" fill="#7a7a7a" textLength="8.99" lengthAdjust="spacingAndGlyphs" style="white-space:pre">IH3</text>
<text x="623.35" y="470.9" font-size="6.1" fill="#7a7a7a" textLength="8.89" lengthAdjust="spacingAndGlyphs" style="white-space:pre">IH4</text>
<text x="642.91" y="470.9" font-size="6.1" fill="#7a7a7a" textLength="8.97" lengthAdjust="spacingAndGlyphs" style="white-space:pre">IH5</text>
<text x="662.48" y="470.9" font-size="6.1" fill="#7a7a7a" textLength="8.99" lengthAdjust="spacingAndGlyphs" style="white-space:pre">IH6</text>
<text x="431.26" y="483.5" font-size="6" fill="#858585" textLength="21.4" lengthAdjust="spacingAndGlyphs" style="white-space:pre">Baseline</text>
<text x="523.44" y="483.5" font-size="6" fill="#858585" textLength="32.78" lengthAdjust="spacingAndGlyphs" style="white-space:pre">Intervention</text>
<text x="526.62" y="490.8" font-size="6" fill="#858585" textLength="26.59" lengthAdjust="spacingAndGlyphs" style="white-space:pre">(Institute)</text>
<text x="601.71" y="483.5" font-size="6" fill="#858585" textLength="32.78" lengthAdjust="spacingAndGlyphs" style="white-space:pre">Intervention</text>
<text x="608.32" y="490.8" font-size="6" fill="#858585" textLength="19.73" lengthAdjust="spacingAndGlyphs" style="white-space:pre">(Home)</text>
<polyline points="373.58,421.85 393.15,421.85 412.72,421.85 432.29,421.85 451.86,421.85 471.43,421.85 491,421.85 510.57,421.85" fill="none" stroke="#000" stroke-width="1.4" stroke-linejoin="round" stroke-dasharray="3.4,1.85"/>
<polyline points="569.27,444.99 588.84,444.99 608.41,444.99 627.98,444.99 647.55,444.99 667.12,444.99" fill="none" stroke="#000" stroke-width="1.4" stroke-linejoin="round" stroke-dasharray="3.4,1.85"/>
<polyline points="373.58,417.51 393.15,417.51 412.72,417.51 432.29,417.51 451.86,426.19 471.43,426.19 491,426.19 510.57,426.19" fill="none" stroke="#000" stroke-width="1.5" stroke-linejoin="round"/>
<rect x="371.88" y="415.81" width="3.4" height="3.4" fill="#000"/>
<rect x="391.45" y="415.81" width="3.4" height="3.4" fill="#000"/>
<rect x="411.02" y="415.81" width="3.4" height="3.4" fill="#000"/>
<rect x="430.59" y="415.81" width="3.4" height="3.4" fill="#000"/>
<rect x="450.16" y="424.49" width="3.4" height="3.4" fill="#000"/>
<rect x="469.73" y="424.49" width="3.4" height="3.4" fill="#000"/>
<rect x="489.3" y="424.49" width="3.4" height="3.4" fill="#000"/>
<rect x="508.87" y="424.49" width="3.4" height="3.4" fill="#000"/>
<polyline points="569.27,434.86 588.84,452.22 608.41,443.54 627.98,443.54 647.55,452.22 667.12,443.54" fill="none" stroke="#000" stroke-width="1.5" stroke-linejoin="round"/>
<rect x="567.57" y="433.16" width="3.4" height="3.4" fill="#000"/>
<rect x="587.14" y="450.52" width="3.4" height="3.4" fill="#000"/>
<rect x="606.71" y="441.84" width="3.4" height="3.4" fill="#000"/>
<rect x="626.28" y="441.84" width="3.4" height="3.4" fill="#000"/>
<rect x="645.85" y="450.52" width="3.4" height="3.4" fill="#000"/>
<rect x="665.42" y="441.84" width="3.4" height="3.4" fill="#000"/>
<line x1="482" y1="499.3" x2="500.5" y2="499.3" stroke="#000" stroke-width="1.35"/>
<rect x="489.75" y="497.8" width="3" height="3" fill="#000"/>
<text x="501.84" y="501.4" font-size="6" fill="#7a7a7a" textLength="14.14" lengthAdjust="spacingAndGlyphs" style="white-space:pre">OB %</text>
<line x1="521.4" y1="499.3" x2="540.7" y2="499.3" stroke="#000" stroke-width="1.4" stroke-dasharray="3.4,1.85"/>
<text x="541.53" y="501.4" font-size="6" fill="#7a7a7a" textLength="33.52" lengthAdjust="spacingAndGlyphs" style="white-space:pre">Level (Mean)</text>
</g>
</svg>
</body></html>
